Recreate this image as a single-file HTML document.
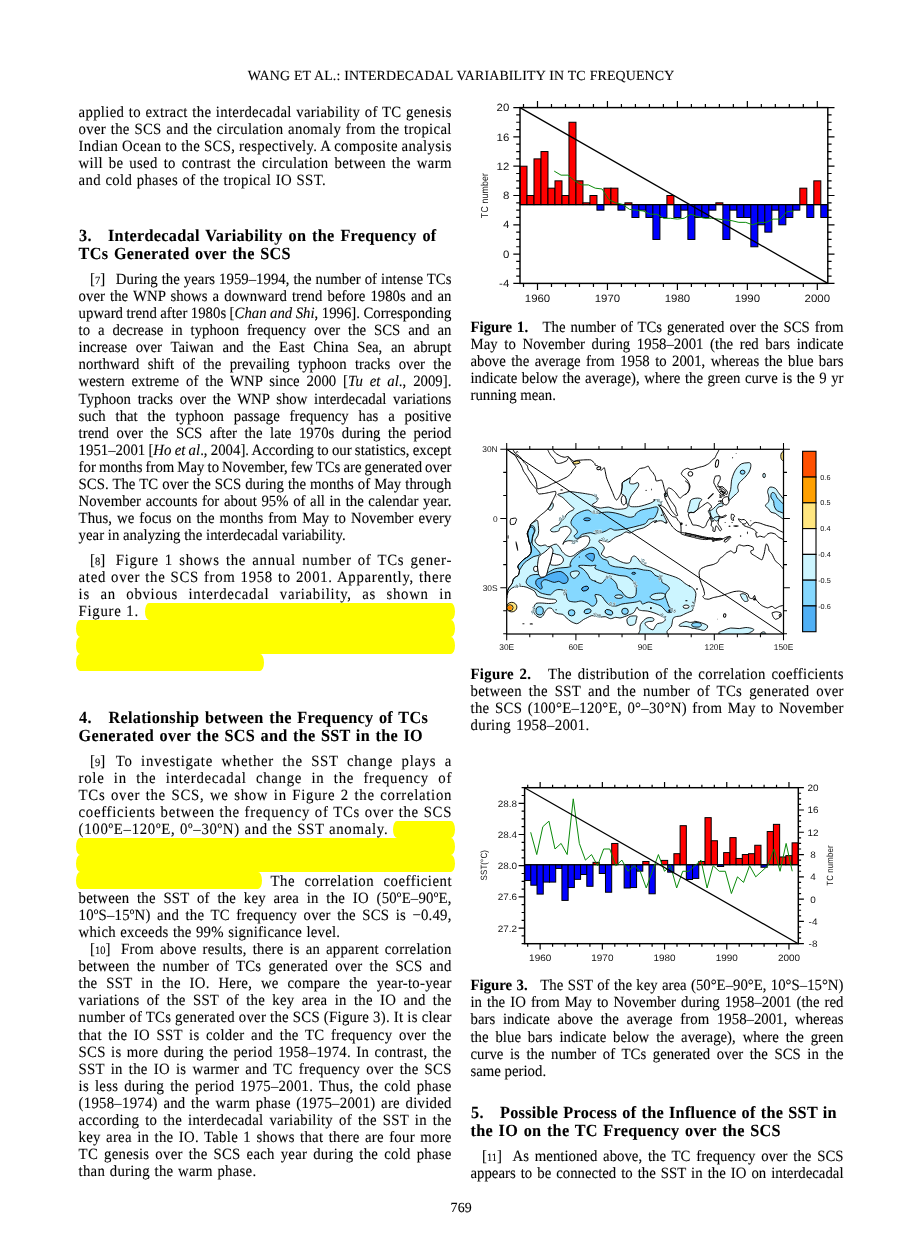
<!DOCTYPE html>
<html><head><meta charset="utf-8"><title>Interdecadal variability in TC frequency</title>
<style>
html,body{margin:0;padding:0;background:#fff}
body{width:920px;height:1255px;position:relative;overflow:hidden;font-family:'Liberation Serif',serif;font-size:14.8px;color:#000;-webkit-text-stroke:0.1px #000;text-rendering:geometricPrecision}
.l{position:absolute;white-space:nowrap;line-height:17px;height:17px}
.l i{font-style:italic}
.b{font-weight:bold}
.n{font-size:10.5px}
.nb{letter-spacing:0}
.sp{display:inline-block;width:10.6px}
.hl{position:absolute;background:#ffff00;border-radius:4px/8.5px}
svg{position:absolute;left:0;top:0}
svg text{fill:#111;-webkit-text-stroke:0;text-rendering:geometricPrecision}
</style></head>
<body>
<div class="l " style="left:247.80px;top:68.00px;width:426.40px;word-spacing:0.233px;letter-spacing:0.150px;font-size:13.9px;">WANG ET AL.: INTERDECADAL VARIABILITY IN TC FREQUENCY</div>
<div class="l " style="left:78.60px;top:105.00px;width:372.80px;word-spacing:0.522px;letter-spacing:0.300px;transform-origin:0 13.50px;transform:scaleY(1.06);">applied to extract the interdecadal variability of TC genesis</div>
<div class="l " style="left:78.60px;top:122.00px;width:372.80px;word-spacing:0.667px;letter-spacing:0.300px;transform-origin:0 13.50px;transform:scaleY(1.06);">over the SCS and the circulation anomaly from the tropical</div>
<div class="l " style="left:78.60px;top:139.00px;width:372.80px;word-spacing:-0.146px;letter-spacing:0.300px;transform-origin:0 13.50px;transform:scaleY(1.06);">Indian Ocean to the SCS, respectively. A composite analysis</div>
<div class="l " style="left:78.60px;top:156.00px;width:372.80px;word-spacing:1.982px;letter-spacing:0.300px;transform-origin:0 13.50px;transform:scaleY(1.06);">will be used to contrast the circulation between the warm</div>
<div class="l " style="left:78.60px;top:173.00px;width:247.00px;word-spacing:0.585px;letter-spacing:0.300px;transform-origin:0 13.50px;transform:scaleY(1.06);">and cold phases of the tropical IO SST.</div>
<div class="l b" style="left:79.10px;top:228.00px;letter-spacing:0.300px;font-size:16.2px;transform-origin:0 13.97px;transform:scaleY(1.05);">3.</div>
<div class="l b" style="left:108.00px;top:228.00px;width:328.20px;word-spacing:1.516px;letter-spacing:0.300px;font-size:16.2px;transform-origin:0 13.97px;transform:scaleY(1.05);">Interdecadal Variability on the Frequency of</div>
<div class="l b" style="left:78.60px;top:246.00px;width:212.00px;word-spacing:1.290px;letter-spacing:0.300px;font-size:16.2px;transform-origin:0 13.97px;transform:scaleY(1.05);">TCs Generated over the SCS</div>
<div class="l " style="left:90.10px;top:272.00px;width:361.30px;word-spacing:0.321px;transform-origin:0 13.50px;transform:scaleY(1.06);"><span class="nb">[<span class="n">7</span>]</span><span class="sp"></span>During the years 1959–1994, the number of intense TCs</div>
<div class="l " style="left:78.60px;top:289.00px;width:372.80px;word-spacing:1.447px;transform-origin:0 13.50px;transform:scaleY(1.06);">over the WNP shows a downward trend before 1980s and an</div>
<div class="l " style="left:78.60px;top:306.00px;width:372.80px;word-spacing:-0.254px;transform-origin:0 13.50px;transform:scaleY(1.06);">upward trend after 1980s [<i>Chan and Shi</i>, 1996]. Corresponding</div>
<div class="l " style="left:78.60px;top:323.00px;width:372.80px;word-spacing:4.161px;transform-origin:0 13.50px;transform:scaleY(1.06);">to a decrease in typhoon frequency over the SCS and an</div>
<div class="l " style="left:78.60px;top:340.00px;width:372.80px;word-spacing:4.953px;transform-origin:0 13.50px;transform:scaleY(1.06);">increase over Taiwan and the East China Sea, an abrupt</div>
<div class="l " style="left:78.60px;top:357.00px;width:372.80px;word-spacing:4.686px;transform-origin:0 13.50px;transform:scaleY(1.06);">northward shift of the prevailing typhoon tracks over the</div>
<div class="l " style="left:78.60px;top:374.00px;width:372.80px;word-spacing:3.211px;transform-origin:0 13.50px;transform:scaleY(1.06);">western extreme of the WNP since 2000 [<i>Tu et al</i>., 2009].</div>
<div class="l " style="left:78.60px;top:392.00px;width:372.80px;word-spacing:2.978px;transform-origin:0 13.50px;transform:scaleY(1.06);">Typhoon tracks over the WNP show interdecadal variations</div>
<div class="l " style="left:78.60px;top:409.00px;width:372.80px;word-spacing:6.123px;transform-origin:0 13.50px;transform:scaleY(1.06);">such that the typhoon passage frequency has a positive</div>
<div class="l " style="left:78.60px;top:426.00px;width:372.80px;word-spacing:3.830px;transform-origin:0 13.50px;transform:scaleY(1.06);">trend over the SCS after the late 1970s during the period</div>
<div class="l " style="left:78.60px;top:443.00px;width:372.80px;word-spacing:-0.451px;transform-origin:0 13.50px;transform:scaleY(1.06);">1951–2001 [<i>Ho et al</i>., 2004]. According to our statistics, except</div>
<div class="l " style="left:78.60px;top:460.00px;width:372.80px;word-spacing:-0.642px;transform-origin:0 13.50px;transform:scaleY(1.06);">for months from May to November, few TCs are generated over</div>
<div class="l " style="left:78.60px;top:477.00px;width:372.80px;word-spacing:0.385px;transform-origin:0 13.50px;transform:scaleY(1.06);">SCS. The TC over the SCS during the months of May through</div>
<div class="l " style="left:78.60px;top:494.00px;width:372.80px;word-spacing:0.918px;transform-origin:0 13.50px;transform:scaleY(1.06);">November accounts for about 95% of all in the calendar year.</div>
<div class="l " style="left:78.60px;top:511.00px;width:372.80px;word-spacing:1.405px;transform-origin:0 13.50px;transform:scaleY(1.06);">Thus, we focus on the months from May to November every</div>
<div class="l " style="left:78.60px;top:528.00px;width:267.00px;word-spacing:0.016px;transform-origin:0 13.50px;transform:scaleY(1.06);">year in analyzing the interdecadal variability.</div>
<div class="l " style="left:90.10px;top:553.00px;width:361.30px;word-spacing:1.814px;letter-spacing:0.700px;transform-origin:0 13.50px;transform:scaleY(1.06);"><span class="nb">[<span class="n">8</span>]</span><span class="sp"></span>Figure 1 shows the annual number of TCs gener-</div>
<div class="l " style="left:78.60px;top:570.00px;width:372.80px;word-spacing:0.649px;letter-spacing:0.700px;transform-origin:0 13.50px;transform:scaleY(1.06);">ated over the SCS from 1958 to 2001. Apparently, there</div>
<div class="l " style="left:78.60px;top:587.00px;width:372.80px;word-spacing:6.125px;letter-spacing:0.700px;transform-origin:0 13.50px;transform:scaleY(1.06);">is an obvious interdecadal variability, as shown in</div>
<div class="l " style="left:78.60px;top:604.00px;width:59.50px;word-spacing:0.466px;letter-spacing:0.700px;transform-origin:0 13.50px;transform:scaleY(1.06);">Figure 1.</div>
<div class="l b" style="left:79.10px;top:710.00px;letter-spacing:0.300px;font-size:16.2px;transform-origin:0 13.97px;transform:scaleY(1.05);">4.</div>
<div class="l b" style="left:108.50px;top:710.00px;width:319.20px;word-spacing:1.216px;letter-spacing:0.300px;font-size:16.2px;transform-origin:0 13.97px;transform:scaleY(1.05);">Relationship between the Frequency of TCs</div>
<div class="l b" style="left:78.60px;top:728.00px;width:344.00px;word-spacing:1.129px;letter-spacing:0.300px;font-size:16.2px;transform-origin:0 13.97px;transform:scaleY(1.05);">Generated over the SCS and the SST in the IO</div>
<div class="l " style="left:90.10px;top:754.00px;width:361.30px;word-spacing:4.103px;letter-spacing:0.700px;transform-origin:0 13.50px;transform:scaleY(1.06);"><span class="nb">[<span class="n">9</span>]</span><span class="sp"></span>To investigate whether the SST change plays a</div>
<div class="l " style="left:78.60px;top:771.00px;width:372.80px;word-spacing:5.045px;letter-spacing:0.700px;transform-origin:0 13.50px;transform:scaleY(1.06);">role in the interdecadal change in the frequency of</div>
<div class="l " style="left:78.60px;top:788.00px;width:372.80px;word-spacing:1.214px;letter-spacing:0.700px;transform-origin:0 13.50px;transform:scaleY(1.06);">TCs over the SCS, we show in Figure 2 the correlation</div>
<div class="l " style="left:78.60px;top:805.00px;width:372.80px;word-spacing:0.426px;letter-spacing:0.700px;transform-origin:0 13.50px;transform:scaleY(1.06);">coefficients between the frequency of TCs over the SCS</div>
<div class="l " style="left:78.60px;top:822.00px;width:309.00px;word-spacing:0.137px;letter-spacing:0.700px;transform-origin:0 13.50px;transform:scaleY(1.06);">(100ºE–120ºE, 0º–30ºN) and the SST anomaly.</div>
<div class="l " style="left:270.50px;top:874.00px;width:181.00px;word-spacing:5.258px;letter-spacing:0.500px;transform-origin:0 13.50px;transform:scaleY(1.06);">The correlation coefficient</div>
<div class="l " style="left:78.60px;top:891.00px;width:372.80px;word-spacing:3.833px;letter-spacing:0.200px;transform-origin:0 13.50px;transform:scaleY(1.06);">between the SST of the key area in the IO (50ºE–90ºE,</div>
<div class="l " style="left:78.60px;top:908.00px;width:372.80px;word-spacing:2.573px;letter-spacing:0.200px;transform-origin:0 13.50px;transform:scaleY(1.06);">10ºS–15ºN) and the TC frequency over the SCS is −0.49,</div>
<div class="l " style="left:78.60px;top:925.00px;width:261.40px;word-spacing:0.554px;letter-spacing:0.200px;transform-origin:0 13.50px;transform:scaleY(1.06);">which exceeds the 99% significance level.</div>
<div class="l " style="left:90.10px;top:942.00px;width:361.30px;word-spacing:1.931px;letter-spacing:0.250px;transform-origin:0 13.50px;transform:scaleY(1.06);"><span class="nb">[<span class="n">10</span>]</span><span class="sp"></span>From above results, there is an apparent correlation</div>
<div class="l " style="left:78.60px;top:959.00px;width:372.80px;word-spacing:3.098px;letter-spacing:0.250px;transform-origin:0 13.50px;transform:scaleY(1.06);">between the number of TCs generated over the SCS and</div>
<div class="l " style="left:78.60px;top:976.00px;width:372.80px;word-spacing:4.870px;letter-spacing:0.250px;transform-origin:0 13.50px;transform:scaleY(1.06);">the SST in the IO. Here, we compare the year-to-year</div>
<div class="l " style="left:78.60px;top:993.00px;width:372.80px;word-spacing:3.323px;letter-spacing:0.250px;transform-origin:0 13.50px;transform:scaleY(1.06);">variations of the SST of the key area in the IO and the</div>
<div class="l " style="left:78.60px;top:1010.00px;width:372.80px;word-spacing:-0.001px;letter-spacing:0.250px;transform-origin:0 13.50px;transform:scaleY(1.06);">number of TCs generated over the SCS (Figure 3). It is clear</div>
<div class="l " style="left:78.60px;top:1028.00px;width:372.80px;word-spacing:2.641px;letter-spacing:0.250px;transform-origin:0 13.50px;transform:scaleY(1.06);">that the IO SST is colder and the TC frequency over the</div>
<div class="l " style="left:78.60px;top:1045.00px;width:372.80px;word-spacing:1.462px;letter-spacing:0.250px;transform-origin:0 13.50px;transform:scaleY(1.06);">SCS is more during the period 1958–1974. In contrast, the</div>
<div class="l " style="left:78.60px;top:1062.00px;width:372.80px;word-spacing:2.161px;letter-spacing:0.250px;transform-origin:0 13.50px;transform:scaleY(1.06);">SST in the IO is warmer and TC frequency over the SCS</div>
<div class="l " style="left:78.60px;top:1079.00px;width:372.80px;word-spacing:2.040px;letter-spacing:0.250px;transform-origin:0 13.50px;transform:scaleY(1.06);">is less during the period 1975–2001. Thus, the cold phase</div>
<div class="l " style="left:78.60px;top:1096.00px;width:372.80px;word-spacing:1.643px;letter-spacing:0.250px;transform-origin:0 13.50px;transform:scaleY(1.06);">(1958–1974) and the warm phase (1975–2001) are divided</div>
<div class="l " style="left:78.60px;top:1113.00px;width:372.80px;word-spacing:2.084px;letter-spacing:0.250px;transform-origin:0 13.50px;transform:scaleY(1.06);">according to the interdecadal variability of the SST in the</div>
<div class="l " style="left:78.60px;top:1130.00px;width:372.80px;word-spacing:1.466px;letter-spacing:0.250px;transform-origin:0 13.50px;transform:scaleY(1.06);">key area in the IO. Table 1 shows that there are four more</div>
<div class="l " style="left:78.60px;top:1147.00px;width:372.80px;word-spacing:2.069px;letter-spacing:0.250px;transform-origin:0 13.50px;transform:scaleY(1.06);">TC genesis over the SCS each year during the cold phase</div>
<div class="l " style="left:78.60px;top:1164.00px;width:177.50px;word-spacing:0.734px;letter-spacing:0.250px;transform-origin:0 13.50px;transform:scaleY(1.06);">than during the warm phase.</div>
<div class="l " style="left:470.50px;top:320.00px;width:373.00px;word-spacing:1.185px;transform-origin:0 13.50px;transform:scaleY(1.06);"><b>Figure 1.</b>&nbsp;&nbsp; The number of TCs generated over the SCS from</div>
<div class="l " style="left:470.50px;top:337.00px;width:373.00px;word-spacing:2.965px;transform-origin:0 13.50px;transform:scaleY(1.06);">May to November during 1958–2001 (the red bars indicate</div>
<div class="l " style="left:470.50px;top:354.00px;width:373.00px;word-spacing:1.677px;transform-origin:0 13.50px;transform:scaleY(1.06);">above the average from 1958 to 2001, whereas the blue bars</div>
<div class="l " style="left:470.50px;top:371.00px;width:373.00px;word-spacing:0.818px;transform-origin:0 13.50px;transform:scaleY(1.06);">indicate below the average), where the green curve is the 9 yr</div>
<div class="l " style="left:470.50px;top:388.00px;transform-origin:0 13.50px;transform:scaleY(1.06);">running mean.</div>
<div class="l " style="left:470.50px;top:667.00px;width:373.00px;word-spacing:1.670px;letter-spacing:0.300px;transform-origin:0 13.50px;transform:scaleY(1.06);"><b>Figure 2.</b>&nbsp;&nbsp; The distribution of the correlation coefficients</div>
<div class="l " style="left:470.50px;top:684.00px;width:373.00px;word-spacing:2.959px;letter-spacing:0.300px;transform-origin:0 13.50px;transform:scaleY(1.06);">between the SST and the number of TCs generated over</div>
<div class="l " style="left:470.50px;top:701.00px;width:373.00px;word-spacing:1.496px;letter-spacing:0.300px;transform-origin:0 13.50px;transform:scaleY(1.06);">the SCS (100°E–120°E, 0°–30°N) from May to November</div>
<div class="l " style="left:470.50px;top:718.00px;width:118.70px;word-spacing:1.281px;letter-spacing:0.300px;transform-origin:0 13.50px;transform:scaleY(1.06);">during 1958–2001.</div>
<div class="l " style="left:470.50px;top:978.00px;width:373.00px;word-spacing:0.635px;transform-origin:0 13.50px;transform:scaleY(1.06);"><b>Figure 3.</b>&nbsp;&nbsp; The SST of the key area (50°E–90°E, 10°S–15°N)</div>
<div class="l " style="left:470.50px;top:995.00px;width:373.00px;word-spacing:1.383px;transform-origin:0 13.50px;transform:scaleY(1.06);">in the IO from May to November during 1958–2001 (the red</div>
<div class="l " style="left:470.50px;top:1012.00px;width:373.00px;word-spacing:4.098px;transform-origin:0 13.50px;transform:scaleY(1.06);">bars indicate above the average from 1958–2001, whereas</div>
<div class="l " style="left:470.50px;top:1030.00px;width:373.00px;word-spacing:3.191px;transform-origin:0 13.50px;transform:scaleY(1.06);">the blue bars indicate below the average), where the green</div>
<div class="l " style="left:470.50px;top:1047.00px;width:373.00px;word-spacing:2.889px;transform-origin:0 13.50px;transform:scaleY(1.06);">curve is the number of TCs generated over the SCS in the</div>
<div class="l " style="left:470.50px;top:1064.00px;transform-origin:0 13.50px;transform:scaleY(1.06);">same period.</div>
<div class="l b" style="left:471.00px;top:1105.00px;letter-spacing:0.300px;font-size:16.2px;transform-origin:0 13.97px;transform:scaleY(1.05);">5.</div>
<div class="l b" style="left:500.00px;top:1105.00px;width:336.60px;word-spacing:0.741px;letter-spacing:0.300px;font-size:16.2px;transform-origin:0 13.97px;transform:scaleY(1.05);">Possible Process of the Influence of the SST in</div>
<div class="l b" style="left:470.50px;top:1123.00px;width:310.00px;word-spacing:1.239px;letter-spacing:0.300px;font-size:16.2px;transform-origin:0 13.97px;transform:scaleY(1.05);">the IO on the TC Frequency over the SCS</div>
<div class="l " style="left:482.00px;top:1149.00px;width:361.50px;word-spacing:2.100px;transform-origin:0 13.50px;transform:scaleY(1.06);"><span class="nb">[<span class="n">11</span>]</span><span class="sp"></span>As mentioned above, the TC frequency over the SCS</div>
<div class="l " style="left:470.50px;top:1166.00px;width:373.00px;word-spacing:1.324px;transform-origin:0 13.50px;transform:scaleY(1.06);">appears to be connected to the SST in the IO on interdecadal</div>
<div class="l " style="left:450.50px;top:1200.00px;letter-spacing:0.200px;font-size:13.9px;">769</div>
<div class="hl" style="left:144.8px;top:603.0px;width:309.8px;height:17.2px"></div>
<div class="hl" style="left:75.7px;top:620.0px;width:378.9px;height:17.2px"></div>
<div class="hl" style="left:75.7px;top:637.0px;width:378.9px;height:17.2px"></div>
<div class="hl" style="left:75.7px;top:654.0px;width:188.6px;height:17.1px"></div>
<div class="hl" style="left:392.5px;top:821.3px;width:62.1px;height:16.9px"></div>
<div class="hl" style="left:75.7px;top:837.8px;width:378.9px;height:17.2px"></div>
<div class="hl" style="left:75.7px;top:854.8px;width:378.9px;height:17.4px"></div>
<div class="hl" style="left:75.7px;top:872.0px;width:186.8px;height:17.0px"></div>
<svg width="920" height="1255" viewBox="0 0 920 1255">
<rect x="520.00" y="166.20" width="7.00" height="38.46" fill="#ff0000" stroke="#000" stroke-width="1.0"/>
<rect x="527.00" y="195.50" width="7.00" height="9.16" fill="#ff0000" stroke="#000" stroke-width="1.0"/>
<rect x="533.99" y="158.88" width="7.00" height="45.78" fill="#ff0000" stroke="#000" stroke-width="1.0"/>
<rect x="540.99" y="151.55" width="7.00" height="53.11" fill="#ff0000" stroke="#000" stroke-width="1.0"/>
<rect x="547.98" y="188.17" width="7.00" height="16.48" fill="#ff0000" stroke="#000" stroke-width="1.0"/>
<rect x="554.98" y="180.85" width="7.00" height="23.81" fill="#ff0000" stroke="#000" stroke-width="1.0"/>
<rect x="561.97" y="195.50" width="7.00" height="9.16" fill="#ff0000" stroke="#000" stroke-width="1.0"/>
<rect x="568.97" y="122.25" width="7.00" height="82.41" fill="#ff0000" stroke="#000" stroke-width="1.0"/>
<rect x="575.96" y="180.85" width="7.00" height="23.81" fill="#ff0000" stroke="#000" stroke-width="1.0"/>
<rect x="582.96" y="202.82" width="7.00" height="1.83" fill="#ff0000" stroke="#000" stroke-width="1.0"/>
<rect x="589.95" y="195.50" width="7.00" height="9.16" fill="#ff0000" stroke="#000" stroke-width="1.0"/>
<rect x="596.95" y="204.66" width="7.00" height="5.49" fill="#0000ff" stroke="#000" stroke-width="1.0"/>
<rect x="603.95" y="188.17" width="7.00" height="16.48" fill="#ff0000" stroke="#000" stroke-width="1.0"/>
<rect x="610.94" y="188.17" width="7.00" height="16.48" fill="#ff0000" stroke="#000" stroke-width="1.0"/>
<rect x="617.94" y="204.66" width="7.00" height="5.49" fill="#0000ff" stroke="#000" stroke-width="1.0"/>
<rect x="624.93" y="202.82" width="7.00" height="1.83" fill="#ff0000" stroke="#000" stroke-width="1.0"/>
<rect x="631.93" y="204.66" width="7.00" height="12.82" fill="#0000ff" stroke="#000" stroke-width="1.0"/>
<rect x="638.92" y="204.66" width="7.00" height="5.49" fill="#0000ff" stroke="#000" stroke-width="1.0"/>
<rect x="645.92" y="204.66" width="7.00" height="12.82" fill="#0000ff" stroke="#000" stroke-width="1.0"/>
<rect x="652.91" y="204.66" width="7.00" height="34.79" fill="#0000ff" stroke="#000" stroke-width="1.0"/>
<rect x="659.91" y="204.66" width="7.00" height="12.82" fill="#0000ff" stroke="#000" stroke-width="1.0"/>
<rect x="666.90" y="195.50" width="7.00" height="9.16" fill="#ff0000" stroke="#000" stroke-width="1.0"/>
<rect x="673.90" y="204.66" width="7.00" height="12.82" fill="#0000ff" stroke="#000" stroke-width="1.0"/>
<rect x="680.90" y="204.66" width="7.00" height="5.49" fill="#0000ff" stroke="#000" stroke-width="1.0"/>
<rect x="687.89" y="204.66" width="7.00" height="34.79" fill="#0000ff" stroke="#000" stroke-width="1.0"/>
<rect x="694.89" y="204.66" width="7.00" height="12.82" fill="#0000ff" stroke="#000" stroke-width="1.0"/>
<rect x="701.88" y="204.66" width="7.00" height="12.82" fill="#0000ff" stroke="#000" stroke-width="1.0"/>
<rect x="708.88" y="204.66" width="7.00" height="5.49" fill="#0000ff" stroke="#000" stroke-width="1.0"/>
<rect x="715.87" y="202.82" width="7.00" height="1.83" fill="#ff0000" stroke="#000" stroke-width="1.0"/>
<rect x="722.87" y="204.66" width="7.00" height="34.79" fill="#0000ff" stroke="#000" stroke-width="1.0"/>
<rect x="729.86" y="204.66" width="7.00" height="5.49" fill="#0000ff" stroke="#000" stroke-width="1.0"/>
<rect x="736.86" y="204.66" width="7.00" height="12.82" fill="#0000ff" stroke="#000" stroke-width="1.0"/>
<rect x="743.85" y="204.66" width="7.00" height="12.82" fill="#0000ff" stroke="#000" stroke-width="1.0"/>
<rect x="750.85" y="204.66" width="7.00" height="42.12" fill="#0000ff" stroke="#000" stroke-width="1.0"/>
<rect x="757.85" y="204.66" width="7.00" height="20.14" fill="#0000ff" stroke="#000" stroke-width="1.0"/>
<rect x="764.84" y="204.66" width="7.00" height="27.47" fill="#0000ff" stroke="#000" stroke-width="1.0"/>
<rect x="771.84" y="204.66" width="7.00" height="5.49" fill="#0000ff" stroke="#000" stroke-width="1.0"/>
<rect x="778.83" y="204.66" width="7.00" height="20.14" fill="#0000ff" stroke="#000" stroke-width="1.0"/>
<rect x="785.83" y="204.66" width="7.00" height="12.82" fill="#0000ff" stroke="#000" stroke-width="1.0"/>
<rect x="792.82" y="204.66" width="7.00" height="5.49" fill="#0000ff" stroke="#000" stroke-width="1.0"/>
<rect x="799.82" y="188.17" width="7.00" height="16.48" fill="#ff0000" stroke="#000" stroke-width="1.0"/>
<rect x="806.81" y="204.66" width="7.00" height="12.82" fill="#0000ff" stroke="#000" stroke-width="1.0"/>
<rect x="813.81" y="180.85" width="7.00" height="23.81" fill="#ff0000" stroke="#000" stroke-width="1.0"/>
<rect x="820.80" y="204.66" width="7.00" height="12.82" fill="#0000ff" stroke="#000" stroke-width="1.0"/>
<line x1="520.0" y1="204.66" x2="827.8" y2="204.66" stroke="#000" stroke-width="1.2"/>
<polyline points="554.20,171.08 561.04,175.15 567.88,175.15 574.72,180.85 581.56,184.92 588.40,184.92 595.24,188.17 602.08,188.99 608.92,199.57 615.76,202.82 622.60,204.45 629.44,209.34 636.28,210.15 643.12,210.96 649.96,214.22 656.80,214.22 663.64,218.29 670.48,218.29 677.32,219.10 684.16,218.29 691.00,214.22 697.84,216.66 704.68,218.29 711.52,218.29 718.36,219.10 725.20,219.92 732.04,220.73 738.88,222.36 745.72,222.36 752.56,224.80 759.40,222.36 766.24,222.36 773.08,219.10 779.92,219.10 786.76,211.78 793.60,210.96" fill="none" stroke="#0a8a0a" stroke-width="1" stroke-linejoin="round"/>
<line x1="520.0" y1="107.6" x2="827.8" y2="283.4" stroke="#000" stroke-width="1.3"/>
<rect x="520.0" y="107.6" width="307.80" height="175.80" fill="none" stroke="#000" stroke-width="1.45"/>
<path d="M523.50 107.6v-3.5M523.50 283.4v3.5M537.49 107.6v-6.5M537.49 283.4v6.5M551.48 107.6v-3.5M551.48 283.4v3.5M565.47 107.6v-3.5M565.47 283.4v3.5M579.46 107.6v-3.5M579.46 283.4v3.5M593.45 107.6v-3.5M593.45 283.4v3.5M607.44 107.6v-6.5M607.44 283.4v6.5M621.43 107.6v-3.5M621.43 283.4v3.5M635.42 107.6v-3.5M635.42 283.4v3.5M649.42 107.6v-3.5M649.42 283.4v3.5M663.41 107.6v-3.5M663.41 283.4v3.5M677.40 107.6v-6.5M677.40 283.4v6.5M691.39 107.6v-3.5M691.39 283.4v3.5M705.38 107.6v-3.5M705.38 283.4v3.5M719.37 107.6v-3.5M719.37 283.4v3.5M733.36 107.6v-3.5M733.36 283.4v3.5M747.35 107.6v-6.5M747.35 283.4v6.5M761.34 107.6v-3.5M761.34 283.4v3.5M775.33 107.6v-3.5M775.33 283.4v3.5M789.32 107.6v-3.5M789.32 283.4v3.5M803.32 107.6v-3.5M803.32 283.4v3.5M817.31 107.6v-6.5M817.31 283.4v6.5M520.0 283.40h-6.7M827.8 283.40h6.7M520.0 276.07h-3.8M827.8 276.07h3.8M520.0 268.75h-3.8M827.8 268.75h3.8M520.0 261.42h-3.8M827.8 261.42h3.8M520.0 254.10h-6.7M827.8 254.10h6.7M520.0 246.77h-3.8M827.8 246.77h3.8M520.0 239.45h-3.8M827.8 239.45h3.8M520.0 232.12h-3.8M827.8 232.12h3.8M520.0 224.80h-6.7M827.8 224.80h6.7M520.0 217.47h-3.8M827.8 217.47h3.8M520.0 210.15h-3.8M827.8 210.15h3.8M520.0 202.82h-3.8M827.8 202.82h3.8M520.0 195.50h-6.7M827.8 195.50h6.7M520.0 188.17h-3.8M827.8 188.17h3.8M520.0 180.85h-3.8M827.8 180.85h3.8M520.0 173.52h-3.8M827.8 173.52h3.8M520.0 166.20h-6.7M827.8 166.20h6.7M520.0 158.88h-3.8M827.8 158.88h3.8M520.0 151.55h-3.8M827.8 151.55h3.8M520.0 144.22h-3.8M827.8 144.22h3.8M520.0 136.90h-6.7M827.8 136.90h6.7M520.0 129.57h-3.8M827.8 129.57h3.8M520.0 122.25h-3.8M827.8 122.25h3.8M520.0 114.92h-3.8M827.8 114.92h3.8M520.0 107.60h-6.7M827.8 107.60h6.7" stroke="#000" stroke-width="1.2" fill="none"/>
<text transform="translate(537.49,302.0) scale(1.08,1)" text-anchor="middle" style="font-family:'Liberation Sans',sans-serif;font-size:10.6px">1960</text>
<text transform="translate(607.44,302.0) scale(1.08,1)" text-anchor="middle" style="font-family:'Liberation Sans',sans-serif;font-size:10.6px">1970</text>
<text transform="translate(677.40,302.0) scale(1.08,1)" text-anchor="middle" style="font-family:'Liberation Sans',sans-serif;font-size:10.6px">1980</text>
<text transform="translate(747.35,302.0) scale(1.08,1)" text-anchor="middle" style="font-family:'Liberation Sans',sans-serif;font-size:10.6px">1990</text>
<text transform="translate(817.31,302.0) scale(1.08,1)" text-anchor="middle" style="font-family:'Liberation Sans',sans-serif;font-size:10.6px">2000</text>
<text transform="translate(509.3,287.00) scale(1.08,1)" text-anchor="end" style="font-family:'Liberation Sans',sans-serif;font-size:10.6px">-4</text>
<text transform="translate(509.3,257.70) scale(1.08,1)" text-anchor="end" style="font-family:'Liberation Sans',sans-serif;font-size:10.6px">0</text>
<text transform="translate(509.3,228.40) scale(1.08,1)" text-anchor="end" style="font-family:'Liberation Sans',sans-serif;font-size:10.6px">4</text>
<text transform="translate(509.3,199.10) scale(1.08,1)" text-anchor="end" style="font-family:'Liberation Sans',sans-serif;font-size:10.6px">8</text>
<text transform="translate(509.3,169.80) scale(1.08,1)" text-anchor="end" style="font-family:'Liberation Sans',sans-serif;font-size:10.6px">12</text>
<text transform="translate(509.3,140.50) scale(1.08,1)" text-anchor="end" style="font-family:'Liberation Sans',sans-serif;font-size:10.6px">16</text>
<text transform="translate(509.3,111.20) scale(1.08,1)" text-anchor="end" style="font-family:'Liberation Sans',sans-serif;font-size:10.6px">20</text>
<text transform="translate(487.6,195.5) scale(1.15,1) rotate(-90)" text-anchor="middle" style="font-family:'Liberation Sans',sans-serif;font-size:8.7px;letter-spacing:0.2px">TC number</text>
<clipPath id="mc"><rect x="506.7" y="449.3" width="276.80" height="184.70"/></clipPath>
<g clip-path="url(#mc)"><path d="M557.7 494.5C557.7 493.9 561.1 493.6 562.9 493.2C564.6 492.7 566.9 491.7 569.0 491.6C571.2 491.5 574.5 492.1 577.3 492.5C580.1 492.8 585.3 493.6 587.6 494.0C590.0 494.4 591.3 494.5 592.8 495.1C594.4 495.8 597.4 497.1 598.0 498.1C598.5 499.1 597.3 500.8 596.4 501.8C595.6 502.7 592.5 503.8 592.3 504.5C592.1 505.3 593.7 506.2 594.9 506.7C596.0 507.2 599.1 507.8 600.0 508.0C601.0 508.1 599.9 508.1 601.2 508.0C602.5 507.8 606.9 507.0 608.9 507.1C611.0 507.3 612.9 508.7 614.6 509.0C616.3 509.3 618.6 509.3 620.3 509.2C622.0 509.1 624.9 508.7 626.0 508.2C627.1 507.7 627.8 506.7 627.9 505.9C627.9 505.1 626.8 503.9 626.5 502.8C626.2 501.7 626.3 499.7 626.0 498.7C625.7 497.6 625.1 496.3 624.4 495.6C623.7 494.8 621.7 494.7 621.3 493.5C621.0 492.2 621.9 488.9 622.1 487.3C622.2 485.7 621.8 483.7 622.4 482.6C623.0 481.6 624.8 481.0 626.0 480.3C627.2 479.6 629.6 477.6 630.1 478.0C630.7 478.4 629.1 482.3 629.6 483.2C630.1 484.0 632.5 484.0 633.7 483.9C635.0 483.8 637.1 482.4 637.9 482.6C638.6 482.9 639.0 484.6 638.6 485.7C638.2 486.9 636.6 488.9 635.5 490.4C634.4 491.9 632.3 494.0 631.4 495.6C630.4 497.1 629.7 499.3 629.3 500.7C628.9 502.1 628.6 504.0 628.9 504.9C629.2 505.7 629.7 506.3 631.2 506.6C632.6 506.9 636.4 506.8 638.4 506.6C640.4 506.4 642.7 505.6 644.6 505.1C646.4 504.5 649.2 503.7 650.8 503.0C652.3 502.3 654.5 500.9 654.9 500.4C655.3 500.0 653.2 500.1 653.5 500.0C653.8 499.9 656.0 499.4 657.0 499.6C657.9 499.8 658.9 500.6 659.6 501.3C660.2 502.0 661.3 503.6 661.3 504.3C661.3 505.1 659.7 505.6 659.7 506.3C659.7 506.9 660.7 507.3 661.3 508.7C661.9 510.1 663.1 513.6 663.9 515.7C664.8 517.7 666.7 521.0 667.0 522.2C667.2 523.3 666.4 523.4 665.7 523.2C664.9 523.0 663.2 521.4 662.2 521.0C661.1 520.7 659.9 520.6 658.7 520.9C657.5 521.1 654.6 522.7 654.3 522.6C654.1 522.6 657.2 520.7 657.0 520.6C656.8 520.4 654.1 521.0 652.9 521.6C651.6 522.2 650.1 523.8 648.7 524.7C647.3 525.6 645.4 527.0 643.6 527.8C641.7 528.6 638.3 529.1 636.3 529.9C634.3 530.6 631.7 532.6 630.1 533.0C628.6 533.3 627.4 531.6 626.0 531.9C624.6 532.2 622.4 534.2 620.8 535.0C619.3 535.8 617.1 536.3 615.7 537.1C614.3 537.8 612.6 539.2 611.5 540.0C610.5 540.7 609.9 541.8 608.7 542.0C607.5 542.1 604.8 541.2 603.5 540.9C602.1 540.7 600.2 540.1 599.6 540.2C598.9 540.4 598.7 541.3 599.1 542.0C599.6 542.6 601.8 543.7 602.6 544.6C603.4 545.5 604.3 547.0 604.3 548.0C604.3 549.1 603.1 550.6 602.6 551.5C602.2 552.4 601.3 553.5 601.3 554.1C601.3 554.7 602.0 555.0 602.7 555.5C603.5 556.0 605.2 557.4 606.4 557.6C607.5 557.7 609.1 556.3 610.5 556.5C611.9 556.8 614.1 558.3 615.7 559.1C617.2 559.9 619.3 561.1 620.8 561.7C622.4 562.3 624.6 563.2 626.0 563.2C627.4 563.3 629.3 563.1 630.1 562.2C631.0 561.4 631.1 558.5 631.7 557.6C632.3 556.6 633.4 555.9 634.3 556.0C635.1 556.1 636.4 557.1 637.4 558.1C638.3 559.0 639.4 561.1 640.5 562.2C641.5 563.3 643.0 564.5 644.6 565.3C646.1 566.1 648.9 566.7 650.8 567.4C652.6 568.1 655.1 569.1 657.0 570.0C658.8 570.8 661.3 572.3 663.2 573.1C665.0 573.8 667.5 574.5 669.4 575.1C671.2 575.7 673.9 576.5 675.6 577.2C677.3 577.9 679.3 578.8 680.7 579.8C682.1 580.7 683.5 582.4 684.9 583.4C686.3 584.4 689.4 586.1 690.0 586.5C690.7 586.8 688.8 585.3 689.3 585.7C689.9 586.0 692.7 587.8 693.7 588.9C694.7 590.1 695.6 591.8 695.9 593.3C696.1 594.7 695.6 596.9 695.3 598.7C695.1 600.5 694.6 603.6 694.2 605.2C693.8 606.8 692.9 608.8 692.6 609.6C692.3 610.4 693.2 610.1 692.2 610.7C691.2 611.2 687.8 612.5 686.1 613.3C684.4 614.0 682.4 615.3 680.9 615.9C679.3 616.4 676.8 616.3 675.7 616.7C674.5 617.1 673.6 617.6 673.0 618.5C672.5 619.4 672.4 621.7 672.2 622.8C671.9 624.0 671.8 625.3 671.3 626.3C670.8 627.3 669.3 628.6 668.7 629.3C668.0 630.1 667.2 630.8 667.0 631.5C666.8 632.2 667.3 633.3 667.4 634.1C667.5 634.9 671.4 636.3 667.4 636.7C663.3 637.1 644.5 637.8 640.4 636.7C636.3 635.7 640.0 631.6 640.0 629.8C640.0 628.0 639.9 625.9 640.4 624.6C641.0 623.2 642.5 621.6 643.5 620.7C644.5 619.7 645.8 618.5 647.0 618.0C648.1 617.6 650.3 617.5 651.3 617.6C652.3 617.7 653.7 618.4 653.9 618.9C654.2 619.4 653.8 620.7 653.0 621.1C652.3 621.5 649.9 621.3 648.7 621.5C647.5 621.8 645.7 622.3 645.2 622.8C644.8 623.3 645.1 624.2 645.7 625.0C646.2 625.8 647.6 627.3 648.7 628.0C649.8 628.8 652.1 629.9 653.0 629.8C654.0 629.7 654.1 628.1 654.8 627.2C655.4 626.3 656.3 624.3 657.4 623.7C658.4 623.0 660.6 623.3 661.7 622.8C662.9 622.3 664.8 621.0 665.2 620.2C665.6 619.4 665.0 618.3 664.3 617.6C663.7 617.0 661.8 616.3 660.9 615.9C660.0 615.4 659.3 615.0 658.3 614.6C657.2 614.1 655.5 613.3 653.9 612.8C652.3 612.3 649.5 611.4 647.8 611.1C646.1 610.8 644.0 610.8 642.6 610.7C641.2 610.5 639.5 610.3 638.7 609.8C637.8 609.3 637.7 606.8 637.0 607.2C636.2 607.6 635.2 611.2 633.9 612.4C632.7 613.6 630.1 614.3 628.7 615.0C627.3 615.7 625.7 616.3 624.3 616.7C623.0 617.2 621.3 618.0 620.0 618.0C618.7 618.1 617.1 617.2 615.7 617.3C614.2 617.4 612.0 618.8 610.5 618.7C608.9 618.6 606.9 616.9 605.3 616.7C603.8 616.4 601.7 617.2 600.2 617.2C598.6 617.1 596.3 616.4 595.0 616.1C593.7 615.9 592.9 615.4 591.8 615.6C590.7 615.8 588.9 616.9 587.6 617.5C586.4 618.1 584.8 618.8 583.5 619.5C582.3 620.3 580.5 622.0 579.4 622.6C578.3 623.3 577.5 623.8 576.3 623.7C575.0 623.5 572.7 622.5 571.1 621.6C569.6 620.7 567.2 618.6 566.0 617.5C564.7 616.4 563.9 614.9 562.9 614.4C561.8 613.8 560.0 614.2 558.7 613.9C557.5 613.6 555.6 613.1 554.6 612.3C553.6 611.5 552.9 609.3 552.0 608.7C551.1 608.1 549.4 607.8 548.4 608.2C547.4 608.6 546.1 610.2 545.3 611.3C544.5 612.4 544.0 614.5 543.2 615.4C542.4 616.3 541.2 617.5 540.1 617.5C539.0 617.5 537.0 616.3 536.0 615.4C535.0 614.5 533.7 612.5 533.4 611.3C533.1 610.0 533.5 608.3 533.9 607.1C534.3 606.0 534.9 604.2 536.0 603.5C537.1 602.9 539.3 603.0 541.2 603.0C543.0 603.0 546.4 603.5 548.4 603.5C550.4 603.5 553.3 603.4 554.6 603.0C555.8 602.6 556.7 601.5 556.7 601.0C556.7 600.4 555.8 599.7 554.6 599.4C553.3 599.1 550.4 599.2 548.4 598.9C546.4 598.6 542.9 597.8 541.2 597.3C539.5 596.9 538.0 596.6 537.0 595.8C536.1 594.9 536.0 592.7 535.0 591.7C533.9 590.6 531.5 589.3 529.8 588.6C528.1 587.8 525.9 586.7 523.6 586.5C521.3 586.3 516.5 586.4 514.3 587.0C512.1 587.6 510.2 589.5 509.1 590.6C508.0 591.8 507.3 594.8 507.1 594.8C506.8 594.8 507.3 591.7 507.6 590.6C507.9 589.5 508.4 588.6 509.1 587.5C509.8 586.4 511.6 584.6 512.2 583.4C512.9 582.1 512.8 580.2 513.3 579.3C513.7 578.3 514.6 577.8 515.3 577.2C516.1 576.6 517.8 576.2 518.4 575.1C519.0 574.0 519.5 571.2 519.5 570.0C519.4 568.7 517.9 567.8 517.9 566.9C517.9 565.9 518.6 564.8 519.5 563.8C520.3 562.7 522.1 560.9 523.6 559.6C525.1 558.4 528.1 556.7 529.3 555.5C530.4 554.3 531.1 552.8 531.3 551.4C531.6 550.0 531.1 547.6 530.8 546.2C530.5 544.8 529.7 543.4 529.3 542.0C528.9 540.6 528.6 538.1 528.2 536.9C527.9 535.6 527.2 534.7 527.2 533.8C527.2 532.8 527.9 531.6 528.2 530.7C528.6 529.7 529.4 528.6 529.8 527.6C530.2 526.6 530.1 524.9 530.8 524.0C531.6 523.0 534.0 521.9 535.0 521.4C536.0 520.9 537.0 519.9 537.5 520.6C538.0 521.2 538.1 524.0 538.3 525.5C538.4 527.0 538.7 529.2 538.7 530.7C538.6 532.1 538.3 534.2 537.9 535.3C537.4 536.5 536.4 537.7 536.0 538.4C535.6 539.1 535.0 539.3 535.0 540.0C535.0 540.7 535.2 542.2 536.0 543.1C536.8 544.0 538.7 545.5 540.1 545.8C541.5 546.1 544.2 544.8 545.3 545.0C546.4 545.1 546.7 546.6 547.6 546.7C548.4 546.9 550.1 546.3 551.0 546.0C551.9 545.7 552.7 544.9 553.6 544.6C554.4 544.4 555.7 543.9 556.7 544.3C557.6 544.8 558.9 546.7 559.8 547.7C560.6 548.8 561.2 550.3 562.0 551.4C562.9 552.4 564.3 553.9 565.4 554.7C566.6 555.4 568.3 556.4 569.6 556.5C570.8 556.7 572.5 556.1 573.7 555.5C574.9 554.9 576.1 553.5 577.3 552.6C578.6 551.8 580.6 550.7 582.0 549.8C583.4 548.9 585.6 547.4 586.6 546.4C587.6 545.4 588.4 544.1 588.9 543.1C589.4 542.1 589.8 540.6 589.9 540.0C590.0 539.4 589.7 539.4 589.6 538.9C589.4 538.4 589.3 537.2 588.7 536.7C588.0 536.3 586.5 535.7 585.2 535.9C583.9 536.0 581.5 536.8 580.0 537.6C578.5 538.4 576.9 540.6 575.2 541.1C573.5 541.5 570.4 540.5 568.7 540.7C567.0 540.8 564.8 541.8 563.9 542.4C563.1 543.0 563.0 544.6 563.0 544.4C563.1 544.2 563.6 542.2 564.3 541.1C565.1 539.9 566.8 538.0 567.8 536.7C568.8 535.4 570.5 533.6 570.9 532.4C571.3 531.2 571.2 529.8 570.4 528.9C569.7 528.0 567.7 526.4 566.1 526.3C564.5 526.2 561.1 527.4 560.0 528.0C558.9 528.7 559.7 530.3 558.7 530.9C557.8 531.5 554.7 531.9 553.6 531.9C552.4 532.0 551.4 531.5 551.0 531.2C550.5 530.9 550.5 530.5 550.5 530.2C550.5 529.9 550.4 529.7 551.0 529.1C551.6 528.6 553.3 527.2 554.6 526.5C555.8 525.8 558.3 525.3 559.2 524.5C560.2 523.7 560.0 522.3 560.8 521.4C561.6 520.5 563.6 519.2 564.4 518.3C565.2 517.4 565.3 516.1 566.0 515.2C566.6 514.3 567.8 513.0 569.0 512.1C570.3 511.2 573.9 509.9 574.2 509.0C574.5 508.1 572.2 507.0 571.1 505.9C570.0 504.8 568.2 503.0 567.0 501.8C565.7 500.5 564.2 498.7 562.9 497.6C561.5 496.5 557.7 495.2 557.7 494.5Z" fill="#ccf5ff" stroke="#000" stroke-width="0.9" stroke-linejoin="round" />
<path d="M553.0 553.4C553.8 553.3 555.4 554.1 556.7 554.5C557.9 554.8 559.7 554.7 560.8 555.5C561.9 556.3 563.1 557.9 563.4 559.1C563.6 560.3 563.1 561.8 562.3 562.7C561.6 563.7 560.0 564.4 558.7 564.8C557.4 565.2 556.0 565.4 554.6 565.3C553.2 565.2 551.1 565.2 550.5 564.3C549.9 563.3 550.7 561.1 551.0 559.6C551.2 558.2 551.7 556.5 552.0 555.5C552.3 554.5 552.3 553.6 553.0 553.4Z" fill="#fff" stroke="#000" stroke-width="0.9" stroke-linejoin="round" />
<ellipse cx="535.8" cy="568.9" rx="2.3" ry="2.7" fill="#fff" stroke="#000" stroke-width="0.9"/>
<ellipse cx="686.1" cy="606.7" rx="3.0" ry="1.7" fill="#fff" stroke="#000" stroke-width="0.9"/>
<path d="M627.4 618.5C628.0 617.7 629.1 616.7 630.4 616.3C631.8 615.9 634.6 615.8 635.7 615.9C636.7 615.9 636.9 616.0 637.0 616.7C637.0 617.5 636.4 619.1 636.1 620.2C635.8 621.4 636.0 622.8 635.2 623.7C634.4 624.6 632.5 625.3 631.3 625.4C630.1 625.6 629.0 625.3 628.3 624.6C627.5 623.8 627.1 622.1 627.0 621.1C626.8 620.1 626.8 619.3 627.4 618.5Z" fill="#ccf5ff" stroke="#000" stroke-width="0.9" stroke-linejoin="round" />
<path d="M679.1 625.0C679.6 624.4 681.4 623.4 682.6 622.8C683.8 622.2 684.9 621.6 686.1 621.5C687.2 621.4 688.3 622.3 689.6 622.4C690.9 622.5 693.0 622.1 693.9 622.0C694.8 621.8 693.6 621.2 694.8 621.3C696.0 621.4 699.2 622.1 701.3 622.8C703.4 623.6 707.1 624.6 707.6 625.9C708.2 627.1 706.0 629.6 704.6 630.2C703.2 630.8 700.9 629.7 699.1 629.3C697.3 629.0 694.7 628.4 693.7 628.3C692.7 628.1 694.0 628.7 693.0 628.5C692.1 628.2 689.6 627.1 687.8 626.7C686.1 626.4 683.9 626.4 682.6 626.3C681.3 626.2 680.6 626.5 680.0 626.3C679.4 626.1 678.7 625.6 679.1 625.0Z" fill="#ccf5ff" stroke="#000" stroke-width="0.9" stroke-linejoin="round" />
<path d="M718.7 633.5C717.2 632.6 722.1 631.1 724.1 630.2C726.1 629.3 728.1 628.3 730.7 628.0C733.2 627.8 736.8 628.7 739.3 628.6C741.9 628.5 743.7 627.5 745.9 627.5C748.0 627.5 751.1 628.1 752.4 628.6C753.7 629.0 754.1 629.6 753.7 630.2C753.3 630.9 751.3 631.8 750.2 632.4C749.1 633.0 749.9 633.2 747.0 633.7C744.1 634.2 737.5 635.7 732.8 635.7C728.1 635.6 720.1 634.4 718.7 633.5Z" fill="#ccf5ff" stroke="#000" stroke-width="0.9" stroke-linejoin="round" />
<path d="M760.5 633.7C760.0 633.4 761.5 632.5 762.2 632.2C762.8 631.9 763.8 631.7 764.3 632.0C764.9 632.2 766.3 633.4 765.7 633.7C765.0 634.0 761.1 633.9 760.5 633.7Z" fill="#ccf5ff" stroke="#000" stroke-width="0.9" stroke-linejoin="round" />
<path d="M740.4 594.3C740.9 593.9 742.7 593.6 743.7 593.8C744.7 594.0 745.8 594.6 746.4 595.4C747.0 596.2 747.2 597.8 747.5 598.7C747.8 599.6 748.5 600.4 748.0 600.9C747.6 601.3 745.7 601.7 744.8 601.4C743.9 601.1 743.2 600.1 742.6 599.2C742.0 598.4 741.3 597.3 741.0 596.5C740.6 595.7 740.0 594.8 740.4 594.3Z" fill="#ccf5ff" stroke="#000" stroke-width="0.9" stroke-linejoin="round" />
<path d="M552.3 502.8C552.9 502.5 553.3 504.1 553.3 504.9C553.4 505.6 553.2 506.5 552.7 507.4C552.2 508.3 551.2 510.0 550.5 510.2C549.7 510.5 548.3 509.6 548.2 509.0C548.1 508.3 549.2 507.4 549.9 506.4C550.6 505.4 551.7 503.0 552.3 502.8Z" fill="#ccf5ff" stroke="#000" stroke-width="0.9" stroke-linejoin="round" />
<path d="M731.7 479.6C732.2 477.8 733.0 475.1 733.9 473.1C734.8 471.1 735.9 469.2 737.2 467.7C738.4 466.1 739.9 464.7 741.5 463.8C743.2 463.0 745.5 462.9 747.0 462.8C748.4 462.6 749.6 462.5 750.2 463.1C750.9 463.7 750.9 465.1 750.8 466.6C750.6 468.1 750.1 470.2 749.1 472.0C748.1 473.8 746.4 475.6 744.8 477.4C743.2 479.2 740.5 481.2 739.3 482.9C738.2 484.5 737.9 485.8 737.7 487.2C737.5 488.7 738.9 490.1 738.3 491.6C737.6 493.0 735.3 494.6 733.9 495.9C732.6 497.3 731.0 499.0 730.1 499.7C729.2 500.4 728.7 501.1 728.5 500.3C728.3 499.4 728.7 496.6 729.0 494.8C729.4 493.0 730.3 491.2 730.7 489.4C731.0 487.6 731.0 485.6 731.2 484.0C731.4 482.3 731.3 481.4 731.7 479.6Z" fill="#ccf5ff" stroke="#000" stroke-width="0.9" stroke-linejoin="round" />
<path d="M690.9 500.0C691.8 499.0 693.8 498.6 695.2 498.3C696.7 498.0 698.5 498.0 699.6 498.3C700.7 498.5 701.7 498.8 701.7 499.6C701.7 500.3 700.1 501.5 699.6 502.6C699.1 503.7 699.1 504.9 698.7 506.1C698.3 507.2 698.1 508.6 697.4 509.6C696.7 510.6 695.4 511.7 694.3 512.2C693.3 512.7 692.0 512.6 690.9 512.6C689.8 512.6 688.3 512.8 687.8 512.2C687.4 511.5 688.0 510.0 688.3 508.7C688.6 507.4 689.1 505.8 689.6 504.3C690.0 502.9 689.9 501.0 690.9 500.0Z" fill="#ccf5ff" stroke="#000" stroke-width="0.9" stroke-linejoin="round" />
<path d="M708.3 510.7C708.5 509.9 710.3 510.7 711.5 510.0C712.7 509.4 714.3 507.7 715.4 506.7C716.5 505.8 717.0 504.8 718.0 504.1C719.1 503.5 721.1 502.8 722.0 502.8C722.8 502.8 722.8 503.6 722.9 504.1C723.0 504.7 723.2 505.7 722.6 506.1C722.0 506.5 720.3 506.4 719.4 506.7C718.4 507.1 717.6 507.7 717.1 508.4C716.6 509.0 716.4 509.8 716.4 510.7C716.5 511.5 717.0 512.8 717.4 513.6C717.8 514.4 718.8 514.7 719.0 515.6C719.3 516.4 719.4 517.6 719.0 518.5C718.6 519.4 717.6 520.9 716.7 521.1C715.9 521.3 714.8 519.7 714.1 519.8C713.5 519.9 713.3 522.0 712.8 521.8C712.4 521.5 712.0 519.7 711.5 518.5C711.0 517.3 710.4 515.9 709.9 514.6C709.3 513.3 708.0 511.4 708.3 510.7Z" fill="#ccf5ff" stroke="#000" stroke-width="0.9" stroke-linejoin="round" />
<path d="M769.8 487.2C771.1 486.7 773.8 487.4 775.2 488.3C776.7 489.2 777.2 491.0 778.5 492.7C779.7 494.3 781.6 496.3 782.8 498.1C784.0 499.9 785.1 500.1 785.5 503.5C786.0 507.0 786.5 516.6 785.5 518.7C784.5 520.9 781.3 517.5 779.6 516.6C777.8 515.7 776.7 514.0 775.2 513.3C773.8 512.6 772.0 512.9 770.9 512.2C769.8 511.5 769.6 510.0 768.7 509.0C767.8 507.9 765.4 507.0 765.4 505.7C765.4 504.4 768.2 503.0 768.7 501.3C769.2 499.7 768.9 497.5 768.7 495.9C768.5 494.3 767.4 493.0 767.6 491.6C767.8 490.1 768.5 487.8 769.8 487.2Z" fill="#ccf5ff" stroke="#000" stroke-width="0.9" stroke-linejoin="round" />
<ellipse cx="764.1" cy="475.5" rx="1.3" ry="2.2" fill="#ccf5ff" stroke="#000" stroke-width="0.9"/>
<ellipse cx="665.7" cy="494.8" rx="1.4" ry="2.1" fill="#ccf5ff" stroke="#000" stroke-width="0.9" transform="rotate(-8 665.7 494.8)"/>
<path d="M530.8 525.5C531.5 525.3 533.2 525.7 533.9 526.5C534.6 527.4 535.0 529.3 535.0 530.7C534.9 532.1 533.8 533.4 533.4 534.8C533.0 536.2 532.5 537.4 532.4 538.9C532.2 540.5 531.8 542.6 532.4 544.1C533.0 545.7 534.7 546.7 536.0 548.3C537.3 549.8 539.8 552.2 540.1 553.4C540.5 554.6 539.1 555.0 538.1 555.5C537.0 556.0 535.5 555.8 533.9 556.5C532.4 557.2 530.3 558.6 528.8 559.6C527.2 560.7 525.8 561.5 524.6 562.7C523.4 563.9 522.4 565.7 521.5 566.9C520.7 568.1 520.1 570.0 519.5 570.0C518.9 570.0 517.9 567.9 517.9 566.9C517.9 565.8 518.5 565.0 519.5 563.8C520.4 562.6 522.0 561.0 523.6 559.6C525.2 558.3 528.0 556.9 529.3 555.5C530.6 554.1 531.1 552.9 531.3 551.4C531.6 549.8 531.2 547.8 530.8 546.2C530.5 544.6 529.7 543.5 529.3 542.0C528.8 540.4 528.5 538.2 528.2 536.9C528.0 535.5 527.5 534.8 527.5 533.8C527.6 532.7 528.2 531.6 528.6 530.7C528.9 529.7 529.4 529.0 529.8 528.1C530.2 527.2 530.1 525.8 530.8 525.5Z" fill="#85d8ff" stroke="#000" stroke-width="0.9" stroke-linejoin="round" />
<path d="M571.1 521.4C571.6 519.7 573.5 516.8 575.2 515.2C577.0 513.5 579.4 512.4 581.4 511.6C583.5 510.7 586.1 510.0 587.6 510.0C589.2 510.0 589.7 511.0 590.7 511.6C591.8 512.1 592.3 513.1 593.8 513.3C595.4 513.6 598.8 513.2 600.0 513.1C601.3 513.0 599.8 512.8 601.2 512.6C602.6 512.4 606.0 512.0 608.4 512.1C610.8 512.2 613.3 512.6 615.7 513.1C618.1 513.6 620.7 514.5 622.9 515.2C625.1 515.9 627.2 517.1 629.1 517.2C631.0 517.4 633.1 516.9 634.3 516.2C635.5 515.5 635.1 514.1 636.3 513.1C637.5 512.1 639.4 510.8 641.5 510.0C643.6 509.2 646.3 509.0 648.7 508.5C651.1 508.0 654.4 506.9 656.0 506.9C657.5 506.9 657.8 507.4 658.0 508.5C658.2 509.5 657.7 511.5 657.0 513.1C656.3 514.8 655.3 517.2 653.9 518.3C652.5 519.3 650.1 518.5 648.7 519.3C647.3 520.2 647.2 522.4 645.6 523.4C644.1 524.5 641.5 524.9 639.4 525.5C637.4 526.1 635.3 526.5 633.2 527.1C631.2 527.6 629.1 528.2 627.0 528.6C625.0 529.0 622.9 529.4 620.8 529.6C618.8 529.9 616.3 530.3 614.6 530.2C612.9 530.0 611.9 528.5 610.5 528.6C609.1 528.7 607.9 530.0 606.4 530.7C604.8 531.4 603.1 532.2 601.2 532.7C599.3 533.3 596.7 533.8 595.0 533.8C593.3 533.8 592.5 532.7 590.7 532.7C589.0 532.7 586.1 533.4 584.5 533.8C583.0 534.1 582.3 534.2 581.4 534.8C580.6 535.4 580.2 536.8 579.4 537.4C578.5 538.0 577.1 538.7 576.3 538.4C575.4 538.2 574.0 536.8 574.2 535.8C574.4 534.9 577.0 533.8 577.3 532.7C577.7 531.7 577.1 530.8 576.3 529.6C575.4 528.4 573.0 526.9 572.1 525.5C571.3 524.1 570.6 523.1 571.1 521.4Z" fill="#85d8ff" stroke="#000" stroke-width="0.9" stroke-linejoin="round" />
<path d="M526.2 581.3C526.4 580.2 527.6 577.7 528.8 576.7C529.9 575.7 532.5 574.9 533.9 574.6C535.3 574.3 536.2 574.8 538.1 574.6C539.9 574.4 544.5 573.6 546.3 573.1C548.2 572.5 549.2 571.6 550.5 571.0C551.7 570.4 553.0 569.4 554.6 568.9C556.1 568.5 558.9 568.1 560.8 567.9C562.6 567.7 565.4 567.6 567.0 567.4C568.5 567.1 570.7 566.8 571.1 566.3C571.6 565.9 569.9 565.3 570.1 564.3C570.2 563.3 571.2 560.9 572.1 559.6C573.1 558.3 574.9 556.7 576.3 555.5C577.7 554.3 579.9 552.4 581.4 551.4C583.0 550.4 585.1 549.4 586.6 548.8C588.2 548.2 590.4 547.2 591.8 547.2C593.2 547.2 595.0 548.2 595.9 548.8C596.8 549.4 597.5 550.5 598.0 551.4C598.5 552.2 598.5 553.4 599.1 554.5C599.8 555.5 601.0 557.7 602.2 558.6C603.5 559.5 606.3 559.7 607.4 560.7C608.5 561.6 608.2 563.9 609.5 564.8C610.7 565.7 613.8 566.5 615.7 566.9C617.5 567.2 619.8 567.1 621.9 567.4C623.9 567.7 626.9 568.8 629.1 568.9C631.3 569.1 634.2 568.3 636.3 568.4C638.5 568.6 641.4 569.6 643.6 570.0C645.7 570.3 649.1 570.2 650.8 571.0C652.5 571.8 653.4 574.0 654.9 575.1C656.5 576.2 660.0 577.1 661.1 578.2C662.2 579.3 661.2 581.3 662.1 582.4C663.1 583.4 666.2 584.5 667.3 585.5C668.4 586.4 669.5 587.5 669.4 588.6C669.2 589.6 666.9 591.6 666.3 592.7C665.7 593.8 665.1 594.4 665.2 595.8C665.4 597.2 666.7 600.3 667.3 602.0C667.9 603.7 668.6 605.9 669.4 607.1C670.2 608.4 672.2 609.5 672.5 610.2C672.8 611.0 672.2 612.0 671.4 612.3C670.7 612.6 668.4 612.8 667.3 612.3C666.2 611.8 665.1 610.1 664.2 609.2C663.3 608.3 662.4 606.9 661.1 606.1C659.9 605.3 657.8 604.7 656.0 604.0C654.1 603.4 650.7 602.0 648.7 602.0C646.7 602.0 643.8 604.2 642.5 604.0C641.3 603.9 641.4 601.3 640.5 601.0C639.5 600.6 638.0 601.7 636.3 602.0C634.6 602.3 631.3 602.7 629.1 603.0C626.9 603.3 623.9 603.6 621.9 604.0C619.8 604.5 617.5 606.0 615.7 606.1C613.8 606.3 611.0 605.9 609.5 605.1C607.9 604.3 606.6 602.3 605.3 601.0C604.1 599.6 602.7 596.7 601.2 595.8C599.6 594.9 595.6 594.0 595.0 594.8C594.4 595.5 597.0 599.4 596.9 601.0C596.9 602.5 595.7 604.3 594.9 605.1C594.1 605.9 592.9 606.4 591.8 606.1C590.7 605.8 589.2 603.8 587.6 603.0C586.1 602.2 583.3 601.1 581.4 601.0C579.6 600.8 577.1 602.0 575.2 602.0C573.4 602.0 570.3 601.6 569.0 601.0C567.8 600.3 567.4 599.1 567.0 597.9C566.5 596.6 566.6 593.8 566.0 592.7C565.3 591.5 564.1 590.6 562.9 590.1C561.6 589.6 559.1 589.4 557.7 589.6C556.3 589.8 554.6 590.9 553.6 591.7C552.5 592.4 551.7 594.4 550.5 594.8C549.2 595.1 546.8 594.5 545.3 594.2C543.7 593.9 541.5 593.4 540.1 592.7C538.7 592.0 537.4 590.4 536.0 589.6C534.6 588.7 532.1 587.8 530.8 587.0C529.5 586.2 527.9 585.3 527.2 584.4C526.5 583.6 525.9 582.5 526.2 581.3Z" fill="#85d8ff" stroke="#000" stroke-width="0.9" stroke-linejoin="round" />
<path d="M571.1 572.0C572.2 571.3 575.9 570.8 577.3 571.0C578.7 571.2 579.6 572.0 579.4 573.1C579.2 574.1 577.3 576.3 576.3 577.2C575.2 578.1 574.1 578.6 573.2 578.2C572.2 577.9 570.9 576.2 570.6 575.1C570.3 574.1 570.0 572.7 571.1 572.0Z" fill="#ccf5ff" stroke="#000" stroke-width="0.9" stroke-linejoin="round" />
<path d="M601.2 571.0C603.3 571.8 605.3 572.5 607.4 573.1C609.5 573.6 611.5 573.7 613.6 574.1C615.7 574.5 617.7 575.3 619.8 575.6C621.9 576.0 624.1 575.6 626.0 576.2C627.9 576.8 629.6 577.9 631.2 579.3C632.7 580.6 634.4 582.7 635.3 584.4C636.2 586.1 636.3 587.7 636.3 589.6C636.3 591.5 636.3 594.4 635.3 595.8C634.3 597.2 631.8 597.9 630.1 597.9C628.4 597.9 626.3 596.8 625.0 595.8C623.6 594.8 623.1 592.9 621.9 591.7C620.7 590.4 618.6 589.8 617.7 588.6C616.9 587.3 617.4 585.8 616.7 584.4C616.0 583.0 615.0 581.5 613.6 580.3C612.2 579.1 609.8 577.4 608.4 577.2C607.1 577.0 606.5 578.2 605.3 579.3C604.1 580.3 602.9 583.0 601.2 583.4C599.5 583.7 595.9 581.7 595.0 581.3C594.1 581.0 596.6 581.7 595.9 581.3C595.2 581.0 592.1 580.5 590.7 579.3C589.4 578.1 588.8 575.7 587.6 574.1C586.4 572.5 585.1 570.8 583.5 569.4C582.0 568.1 578.3 566.7 578.3 566.0C578.3 565.3 581.4 565.3 583.5 565.3C585.6 565.3 588.7 565.8 590.7 565.8C592.8 565.8 595.2 564.9 595.9 565.3C596.6 565.7 594.1 567.5 595.0 568.4C595.9 569.4 599.1 570.2 601.2 571.0Z" fill="#ccf5ff" stroke="#000" stroke-width="0.9" stroke-linejoin="round" />
<path d="M650.3 596.3C650.8 595.4 652.9 594.2 654.9 593.7C656.9 593.2 660.4 593.0 662.1 593.2C663.9 593.4 665.1 593.9 665.2 594.8C665.4 595.6 664.6 597.5 663.2 598.4C661.8 599.2 658.9 599.8 657.0 599.9C655.1 600.0 652.9 599.5 651.8 598.9C650.7 598.3 649.8 597.2 650.3 596.3Z" fill="#ccf5ff" stroke="#000" stroke-width="0.9" stroke-linejoin="round" />
<ellipse cx="618.8" cy="596.6" rx="4.1" ry="1.8" fill="#ccf5ff" stroke="#000" stroke-width="0.9"/>
<ellipse cx="539.6" cy="610.8" rx="3.7" ry="4.1" fill="#85d8ff" stroke="#000" stroke-width="0.9"/>
<ellipse cx="571.6" cy="612.8" rx="3.3" ry="3.1" fill="#85d8ff" stroke="#000" stroke-width="0.9"/>
<ellipse cx="587.6" cy="611.3" rx="3.6" ry="2.3" fill="#85d8ff" stroke="#000" stroke-width="0.9" transform="rotate(-15 587.6 611.3)"/>
<ellipse cx="608.9" cy="612.3" rx="4.1" ry="2.5" fill="#85d8ff" stroke="#000" stroke-width="0.9" transform="rotate(20 608.9 612.3)"/>
<ellipse cx="625.0" cy="611.3" rx="3.3" ry="3.1" fill="#85d8ff" stroke="#000" stroke-width="0.9"/>
<ellipse cx="742.6" cy="472.2" rx="2.4" ry="2.0" fill="#85d8ff" stroke="#000" stroke-width="0.9"/>
<path d="M692.1 623.7C692.7 623.2 694.5 622.7 695.9 622.6C697.2 622.5 699.3 622.7 700.2 623.2C701.1 623.6 701.5 624.7 701.3 625.3C701.1 626.0 700.2 626.7 699.1 627.0C698.0 627.2 696.0 627.1 694.8 627.0C693.6 626.8 692.5 626.4 692.1 625.9C691.6 625.3 691.4 624.2 692.1 623.7Z" fill="#85d8ff" stroke="#000" stroke-width="0.9" stroke-linejoin="round" />
<path d="M772.0 492.7C772.7 492.1 774.3 492.8 775.2 493.7C776.1 494.6 776.1 496.5 777.4 498.1C778.7 499.7 781.5 501.9 782.8 503.5C784.2 505.2 785.1 506.2 785.5 507.9C786.0 509.5 786.5 512.7 785.5 513.3C784.5 513.9 781.1 512.2 779.6 511.7C778.0 511.1 777.2 511.0 776.3 510.0C775.4 509.0 774.6 507.1 774.1 505.7C773.7 504.2 774.1 502.8 773.6 501.3C773.0 499.9 771.1 498.4 770.9 497.0C770.6 495.6 771.2 493.2 772.0 492.7Z" fill="#85d8ff" stroke="#000" stroke-width="0.9" stroke-linejoin="round" />
<path d="M529.3 528.6C530.0 527.5 531.2 526.7 532.1 527.1C532.9 527.4 534.3 529.6 534.4 530.9C534.6 532.2 533.3 533.5 532.9 534.8C532.5 536.2 532.3 537.7 532.1 538.9C531.8 540.2 531.9 542.0 531.3 542.6C530.8 543.2 529.4 543.3 529.0 542.6C528.5 541.8 528.7 539.4 528.6 537.9C528.4 536.4 527.8 535.3 527.9 533.8C528.1 532.2 528.6 529.7 529.3 528.6Z" fill="#85d8ff" stroke="#000" stroke-width="0.9" stroke-linejoin="round" />
<path d="M536.0 580.8C536.3 579.9 537.0 579.3 538.1 578.7C539.1 578.2 540.8 578.2 542.2 577.7C543.6 577.2 544.9 576.3 546.3 575.6C547.7 575.0 548.9 574.2 550.5 573.6C552.0 573.0 553.9 572.4 555.6 572.0C557.3 571.7 559.2 571.2 560.8 571.5C562.3 571.9 563.7 573.0 564.9 574.1C566.1 575.2 567.7 576.8 568.0 578.2C568.4 579.6 567.8 581.5 567.0 582.4C566.1 583.2 564.2 583.6 562.9 583.4C561.5 583.2 560.1 581.5 558.7 581.3C557.3 581.2 556.0 582.4 554.6 582.4C553.2 582.4 551.8 581.8 550.5 581.3C549.1 580.9 547.5 579.9 546.3 579.8C545.1 579.6 544.1 579.7 543.2 580.3C542.4 580.9 541.3 582.2 541.2 583.4C541.0 584.6 542.3 586.6 542.2 587.5C542.1 588.5 541.3 589.2 540.6 589.1C540.0 589.0 538.8 587.8 538.1 587.0C537.3 586.2 536.3 585.5 536.0 584.4C535.6 583.4 535.6 581.8 536.0 580.8Z" fill="#4fb0f5" stroke="#000" stroke-width="0.9" stroke-linejoin="round" />
<path d="M585.6 555.5C585.8 555.1 588.9 553.6 589.7 553.4C590.5 553.3 593.4 553.5 593.8 553.9C594.3 554.4 594.5 556.8 594.4 557.6C594.3 558.3 593.3 561.0 592.8 561.2C592.3 561.4 590.3 560.0 589.7 559.6C589.1 559.3 587.5 558.0 587.1 557.6C586.7 557.1 585.3 555.9 585.6 555.5Z" fill="#4fb0f5" stroke="#000" stroke-width="0.9" stroke-linejoin="round" />
<ellipse cx="585.1" cy="588.6" rx="3.6" ry="2.2" fill="#4fb0f5" stroke="#000" stroke-width="0.9" transform="rotate(-20 585.1 588.6)"/>
<ellipse cx="587.1" cy="519.3" rx="3.4" ry="1.5" fill="#4fb0f5" stroke="#000" stroke-width="0.9"/>
<ellipse cx="633.7" cy="573.3" rx="1.9" ry="1.0" fill="#4fb0f5" stroke="#000" stroke-width="0.9"/>
<ellipse cx="576.5" cy="462.5" rx="3.7" ry="1.5" fill="#ffe680" stroke="#000" stroke-width="0.9" transform="rotate(-8 576.5 462.5)"/>
<ellipse cx="784.1" cy="456.2" rx="3.3" ry="4.6" fill="#ffe680" stroke="#000" stroke-width="0.9"/>
<ellipse cx="511.7" cy="607.1" rx="5.2" ry="4.8" fill="#ffe680" stroke="#000" stroke-width="0.9"/>
<ellipse cx="510.0" cy="607.7" rx="3.1" ry="2.9" fill="#ffe680" stroke="#000" stroke-width="0.9"/>
<ellipse cx="509.8" cy="607.7" rx="2.5" ry="2.3" fill="#ffa000" stroke="none" stroke-width="0.9"/>
<ellipse cx="509.5" cy="607.7" rx="1.4" ry="1.4" fill="#ff7800" stroke="none" stroke-width="0.9"/>
<path d="M551.0 546.7C551.3 547.0 552.9 549.5 553.0 550.3C553.1 551.2 552.3 554.4 552.0 555.5C551.7 556.6 550.8 560.5 550.5 561.7C550.1 562.9 548.8 566.7 548.4 567.9C548.0 569.1 547.2 573.2 546.8 574.1C546.5 575.0 545.4 576.4 544.8 576.7C544.2 577.0 541.3 577.4 540.6 577.2C540.0 576.9 538.9 574.8 538.6 574.1C538.3 573.4 538.0 570.8 537.9 570.0C537.7 569.1 537.5 566.8 537.5 565.8C537.6 564.9 537.9 561.6 538.1 560.7C538.2 559.7 538.8 557.1 539.1 556.5C539.4 555.9 540.6 554.9 541.2 554.5C541.7 554.0 543.6 552.9 544.3 552.4C544.9 551.9 546.8 550.3 547.4 549.8C547.9 549.3 549.1 548.1 549.4 547.7C549.8 547.4 550.6 546.5 551.0 546.7Z" fill="#fff" stroke="#000" stroke-width="1.0" stroke-linejoin="round" />
<path d="M622.9 495.6C623.5 495.2 624.4 495.7 625.0 496.6C625.5 497.4 626.1 499.5 626.2 500.7C626.3 501.9 625.9 503.1 625.5 503.8C625.0 504.5 624.0 505.0 623.4 504.9C622.8 504.7 622.0 503.8 621.7 502.8C621.3 501.8 621.1 499.9 621.3 498.7C621.5 497.4 622.3 495.9 622.9 495.6Z" fill="#fff" stroke="#000" stroke-width="1.0" stroke-linejoin="round" />
<path d="M707.9 498.9L713.5 493.4" fill="none" stroke="#000" stroke-width="1.3" stroke-linejoin="round" />
<path d="M507.6 449.9C507.9 450.1 510.6 452.2 511.2 452.7C511.8 453.2 514.7 455.1 515.3 455.8C515.9 456.5 517.9 460.1 518.4 460.9C518.9 461.8 521.1 465.3 521.5 466.1C522.0 467.0 523.1 470.4 523.6 471.3C524.1 472.1 526.7 475.6 527.2 476.4C527.7 477.3 529.3 480.3 529.8 481.1C530.3 481.9 532.8 485.1 533.4 485.7C534.0 486.4 536.2 488.8 536.5 489.4C536.8 489.9 536.8 491.6 537.0 491.9C537.2 492.3 538.5 493.9 539.1 494.0C539.7 494.1 543.4 493.6 544.3 493.5C545.1 493.4 548.6 492.6 549.4 492.5C550.2 492.3 553.0 491.7 553.6 491.6C554.1 491.5 555.4 491.2 555.6 491.4C555.8 491.6 556.0 493.4 555.8 494.0C555.7 494.6 553.9 497.9 553.6 498.7C553.2 499.4 551.8 502.1 551.5 502.8C551.1 503.5 549.9 506.2 549.4 506.9C548.9 507.6 546.5 510.4 545.8 511.0C545.1 511.7 541.9 514.1 541.2 514.7C540.4 515.3 537.7 517.7 537.0 518.3C536.4 518.9 533.9 521.4 533.4 521.9C532.9 522.4 531.1 524.0 530.8 524.5C530.5 525.0 530.0 527.1 529.8 527.6C529.6 528.1 528.5 530.2 528.2 530.7C528.0 531.2 527.2 533.3 527.2 533.8C527.2 534.3 528.1 536.2 528.2 536.9C528.4 537.6 529.1 541.3 529.3 542.0C529.5 542.8 530.7 545.4 530.8 546.2C531.0 547.0 531.5 550.6 531.3 551.4C531.2 552.1 529.9 554.8 529.3 555.5C528.6 556.2 524.4 558.9 523.6 559.6C522.8 560.3 519.9 563.2 519.5 563.8C519.0 564.4 517.9 566.3 517.9 566.9C517.9 567.4 519.4 569.3 519.5 570.0C519.5 570.6 518.8 574.5 518.4 575.1C518.1 575.7 515.8 576.8 515.3 577.2C514.9 577.5 513.5 578.7 513.3 579.3C513.0 579.8 512.6 582.7 512.2 583.4C511.9 584.1 509.5 586.9 509.1 587.5C508.7 588.1 507.8 590.0 507.6 590.6C507.4 591.2 507.1 594.1 507.1 594.8C507.0 595.4 507.0 597.4 506.9 597.9C506.8 598.3 505.9 599.7 505.8 599.9" fill="none" stroke="#000" stroke-width="1.0" stroke-linejoin="round" />
<path d="M513.1 449.9C513.2 450.2 515.0 453.3 515.3 453.4C515.7 453.5 517.0 451.4 517.2 451.3C517.4 451.3 517.9 452.3 518.0 452.4" fill="none" stroke="#000" stroke-width="1.0" stroke-linejoin="round" />
<path d="M515.8 453.7C516.2 454.0 519.8 456.6 520.5 457.3C521.2 458.1 523.6 461.8 524.1 462.5C524.7 463.2 526.9 465.0 527.2 465.6C527.6 466.2 527.9 468.5 528.2 469.2C528.6 469.9 531.3 473.0 531.9 473.9C532.4 474.7 534.6 478.2 535.0 479.0C535.3 479.8 536.3 482.3 536.5 483.2C536.7 484.0 536.8 488.5 537.2 488.8C537.7 489.2 541.3 488.0 542.2 487.8C543.0 487.6 546.5 486.6 547.4 486.3C548.2 485.9 551.7 484.1 552.5 483.7C553.4 483.3 556.8 482.0 557.7 481.6C558.5 481.2 562.1 479.4 562.9 479.0C563.6 478.6 566.3 477.4 567.0 477.0C567.6 476.5 570.1 474.5 570.6 473.9C571.1 473.3 572.8 470.3 573.2 469.7C573.6 469.1 575.8 467.4 575.8 466.8C575.8 466.3 573.6 464.1 573.2 463.5C572.8 463.0 571.5 460.9 571.1 460.4C570.7 459.9 568.9 457.3 568.5 457.3C568.2 457.3 567.5 460.0 567.0 460.4C566.5 460.9 563.5 462.2 562.9 462.5C562.2 462.8 559.3 463.5 558.7 463.5C558.1 463.5 556.0 462.8 555.6 462.5C555.3 462.2 554.9 459.9 554.6 459.4C554.2 458.9 551.9 456.8 551.5 456.3C551.1 455.8 549.7 453.7 549.4 453.2C549.1 452.7 548.0 450.4 547.9 450.1" fill="none" stroke="#000" stroke-width="1.0" stroke-linejoin="round" />
<path d="M553.0 450.1C553.3 450.4 555.0 452.7 555.6 453.2C556.3 453.7 560.0 456.0 560.8 456.3C561.6 456.6 564.3 457.3 564.9 457.3C565.5 457.3 567.5 456.3 568.0 456.5C568.5 456.7 570.6 458.8 571.1 459.2C571.6 459.6 573.2 461.2 573.7 461.3C574.2 461.4 576.5 460.5 577.3 460.4C578.1 460.3 582.4 460.0 583.5 459.9C584.6 459.9 589.8 459.6 590.7 459.9C591.7 460.2 594.5 463.1 594.9 463.5C595.2 464.0 594.7 464.9 595.0 465.1C595.3 465.3 597.5 465.7 597.9 465.9C598.3 466.1 599.3 467.5 599.3 467.7C599.4 467.9 597.9 468.0 598.1 468.2C598.3 468.4 600.7 470.3 601.2 470.2C601.7 470.2 604.0 467.5 604.3 467.7C604.6 467.8 605.1 470.9 605.3 471.8C605.5 472.7 606.2 476.9 606.6 478.0C606.9 479.1 609.0 484.0 609.5 485.2C610.0 486.4 612.1 491.4 612.6 492.5C613.0 493.5 614.3 497.0 614.6 497.6C615.0 498.3 616.3 500.3 616.7 500.2C617.1 500.1 618.9 497.2 619.3 496.6C619.7 495.9 621.1 493.2 621.3 492.5C621.6 491.7 622.0 488.1 622.1 487.3C622.2 486.5 622.0 483.2 622.4 482.6C622.7 482.0 625.3 480.5 626.0 480.1C626.7 479.6 629.9 478.1 630.6 477.5C631.4 476.9 634.6 473.6 635.3 472.8C636.0 472.1 638.6 469.1 639.4 468.7C640.2 468.3 643.9 467.9 644.6 467.7C645.3 467.4 647.8 466.1 648.2 466.1C648.6 466.2 649.4 467.9 649.5 468.2C649.7 468.5 649.7 469.2 650.0 469.6C650.3 469.9 652.2 471.6 652.6 472.2C653.0 472.8 654.9 475.8 655.2 476.5C655.5 477.2 655.7 480.5 656.1 480.9C656.4 481.2 659.1 480.5 659.6 480.4C660.0 480.4 661.4 479.7 661.7 480.0C662.0 480.3 662.8 482.8 663.0 483.5C663.3 484.2 664.1 487.9 664.3 488.7C664.6 489.5 665.6 492.3 665.7 493.0C665.7 493.8 664.7 496.7 664.8 497.4C664.9 498.0 666.2 500.2 666.5 500.9C666.8 501.5 668.3 504.5 668.7 505.2C669.1 505.9 670.5 508.9 670.9 509.6C671.3 510.2 673.0 512.5 673.5 513.0C673.9 513.6 675.7 515.5 676.1 515.7C676.4 515.8 677.8 515.6 677.8 515.2C677.8 514.9 676.3 511.9 676.1 511.3C675.9 510.7 675.9 508.4 675.7 507.8C675.4 507.2 673.9 504.9 673.5 504.3C673.1 503.8 671.3 501.4 670.9 500.9C670.5 500.3 669.0 498.0 668.7 497.4C668.4 496.8 667.5 494.5 667.4 493.9C667.2 493.3 666.8 490.5 667.0 490.0C667.1 489.5 668.3 487.9 668.7 487.8C669.1 487.8 671.2 488.8 671.7 489.1C672.3 489.5 674.7 491.6 675.2 492.2C675.7 492.7 677.4 495.1 677.8 495.7C678.2 496.2 679.6 498.3 680.0 498.3C680.4 498.3 682.5 496.1 683.0 495.7C683.6 495.3 686.0 493.9 686.5 493.5C687.0 493.0 688.8 491.1 689.1 490.4C689.4 489.8 690.1 486.8 690.0 486.1C689.9 485.4 688.6 482.4 688.3 481.7C687.9 481.1 686.1 478.8 685.7 478.3C685.2 477.8 683.0 476.1 682.6 475.7C682.2 475.3 681.2 473.9 681.3 473.5C681.4 473.0 683.0 470.4 683.5 470.0C684.0 469.6 686.8 468.3 687.4 468.3C688.0 468.2 689.9 469.5 690.4 469.6C690.9 469.6 692.8 469.3 693.5 469.1C694.2 468.9 697.8 467.6 698.7 467.4C699.6 467.1 703.1 466.4 703.9 466.1C704.7 465.8 707.7 464.3 708.3 463.9C708.8 463.6 710.5 462.1 710.9 461.7C711.3 461.3 712.7 459.4 713.0 459.1C713.4 458.9 714.3 458.8 714.6 458.4C714.9 458.0 716.2 455.2 716.5 454.6C716.8 454.0 717.9 452.0 718.2 451.6C718.4 451.1 719.0 449.6 719.1 449.4" fill="none" stroke="#000" stroke-width="1.0" stroke-linejoin="round" />
<path d="M658.3 504.8C658.5 505.1 660.7 507.8 661.3 508.7C661.9 509.6 665.0 514.6 665.7 515.7C666.3 516.7 668.6 520.8 669.1 521.7C669.7 522.7 672.0 526.2 672.6 527.0C673.3 527.7 676.3 530.4 677.0 530.9C677.6 531.3 680.5 532.7 680.9 532.3C681.2 532.0 681.0 527.7 681.0 527.0C680.9 526.2 680.7 523.6 680.4 523.0C680.2 522.5 678.6 521.3 678.3 520.9C677.9 520.4 676.6 517.8 676.1 517.4C675.6 517.0 673.2 516.9 672.6 516.5C672.0 516.2 669.7 513.7 669.1 513.0C668.6 512.4 666.2 509.3 665.7 508.7C665.1 508.1 662.8 506.4 662.2 506.1C661.6 505.8 658.6 504.9 658.3 504.8" fill="none" stroke="#000" stroke-width="1.0" stroke-linejoin="round" />
<path d="M510.7 518.8C511.1 518.7 514.8 518.0 515.3 518.1C515.8 518.1 516.6 518.8 516.6 519.3C516.5 519.8 515.3 523.5 514.8 524.0C514.3 524.4 511.1 524.7 510.7 524.5C510.3 524.3 510.2 521.9 510.2 521.4C510.2 520.9 510.6 519.0 510.7 518.8" fill="none" stroke="#000" stroke-width="1.0" stroke-linejoin="round" />
<path d="M689.1 513.0C689.3 513.0 690.5 512.2 690.9 512.2C691.2 512.1 693.1 512.7 693.5 512.6C693.8 512.5 694.8 511.6 695.2 511.3C695.7 511.0 698.1 509.1 698.7 508.7C699.3 508.3 701.6 506.5 702.2 506.1C702.8 505.7 705.2 503.8 705.7 503.5C706.1 503.2 707.4 502.5 707.8 502.6C708.3 502.8 710.5 504.8 710.9 505.2C711.2 505.6 711.8 507.1 711.7 507.4C711.6 507.7 709.7 508.3 709.6 508.7C709.4 509.1 709.9 511.6 710.0 512.2C710.1 512.8 710.9 515.1 710.9 515.7C710.8 516.2 709.5 518.6 709.1 519.1C708.8 519.7 707.2 522.0 707.0 522.6C706.7 523.2 706.0 525.7 705.7 526.1C705.3 526.5 703.6 527.8 703.0 527.8C702.5 527.8 700.1 526.3 699.6 526.1C699.0 525.9 696.7 525.3 696.1 525.2C695.5 525.1 693.0 525.1 692.6 524.8C692.2 524.4 691.2 521.5 690.9 520.9C690.6 520.3 689.3 517.9 689.1 517.4C688.9 516.9 688.3 515.1 688.3 514.8C688.3 514.4 689.1 513.2 689.1 513.0" fill="none" stroke="#000" stroke-width="1.0" stroke-linejoin="round" />
<path d="M715.4 476.1C715.8 476.1 719.3 475.5 719.7 475.8C720.1 476.0 720.4 478.5 720.3 479.0C720.3 479.5 719.2 481.5 719.0 482.0C718.8 482.4 717.7 484.2 717.7 484.6C717.7 484.9 718.7 486.4 719.0 486.5C719.4 486.7 721.6 486.4 722.0 486.5C722.4 486.6 723.5 487.5 723.9 487.8C724.3 488.2 726.2 490.1 726.5 490.4C726.8 490.8 727.5 492.1 727.5 492.4C727.5 492.7 727.1 494.2 726.9 494.4C726.6 494.5 724.9 493.7 724.6 493.7C724.2 493.7 722.7 494.7 722.3 494.7C721.9 494.6 720.3 493.4 720.0 493.0C719.7 492.7 718.6 491.1 718.4 490.8C718.1 490.4 717.0 488.9 716.7 488.5C716.5 488.1 715.7 486.3 715.4 485.9C715.2 485.4 713.9 483.5 713.8 482.9C713.7 482.4 714.0 480.2 714.1 479.7C714.3 479.1 715.3 476.4 715.4 476.1" fill="none" stroke="#000" stroke-width="1.0" stroke-linejoin="round" />
<path d="M717.4 486.5C717.7 486.6 720.5 487.6 720.7 487.8C720.8 488.1 718.9 489.3 719.0 489.5C719.2 489.7 722.2 489.9 722.3 490.1C722.4 490.3 720.2 491.6 720.3 491.7C720.5 491.9 723.5 491.3 723.9 491.4C724.3 491.5 725.3 492.8 725.2 493.0C725.1 493.3 722.7 493.8 722.6 494.0C722.6 494.2 724.7 495.5 724.6 495.7C724.5 495.8 722.0 496.1 721.6 496.0C721.2 495.9 719.7 494.5 719.7 494.7C719.6 494.8 721.4 497.4 721.3 497.6C721.3 497.8 719.2 497.0 719.0 497.0" fill="none" stroke="#000" stroke-width="1.0" stroke-linejoin="round" />
<path d="M720.0 487.2C720.2 487.3 722.2 488.6 722.6 488.8C723.0 489.1 724.3 489.9 724.6 490.1C724.8 490.4 725.9 491.5 725.9 491.7C725.8 492.0 724.6 492.7 724.2 492.7C723.9 492.8 722.3 492.6 722.0 492.4C721.7 492.2 720.8 490.9 720.7 490.8" fill="none" stroke="#000" stroke-width="1.0" stroke-linejoin="round" />
<path d="M722.6 498.9C722.8 498.8 724.2 497.5 724.6 497.3C725.0 497.1 727.1 496.5 727.5 496.6C727.9 496.8 729.0 498.5 729.1 498.9C729.2 499.4 729.0 501.7 728.8 502.2C728.6 502.7 727.2 504.6 726.9 504.8C726.5 505.0 724.9 505.0 724.6 504.8C724.2 504.6 723.1 503.2 722.9 502.8C722.7 502.5 722.3 501.2 722.3 500.9C722.3 500.6 722.6 499.1 722.6 498.9" fill="none" stroke="#000" stroke-width="1.0" stroke-linejoin="round" />
<path d="M714.8 517.2C715.1 517.1 717.4 516.6 718.0 516.5C718.6 516.5 721.4 517.0 722.0 516.9C722.6 516.8 724.8 515.3 725.2 515.2C725.6 515.1 726.6 515.4 726.5 515.6C726.4 515.7 724.5 517.0 723.9 517.2C723.4 517.4 720.4 517.8 720.0 518.0C719.6 518.1 719.2 518.1 719.0 518.6C718.9 519.1 717.9 523.0 718.0 523.7C718.2 524.4 720.0 526.5 720.3 527.0C720.6 527.5 721.7 529.3 721.6 529.6C721.6 529.9 720.3 531.0 720.0 530.9C719.7 530.7 718.4 528.1 718.0 527.6C717.7 527.2 716.3 525.6 716.1 525.7C715.9 525.7 715.5 527.8 715.4 528.3C715.3 528.8 715.0 531.3 714.8 531.5C714.6 531.8 713.0 531.2 712.8 530.9C712.7 530.6 713.3 528.1 713.2 527.6C713.0 527.2 711.3 526.2 711.2 525.7C711.1 525.2 711.6 522.5 711.5 521.8C711.4 521.0 709.9 517.6 709.9 517.2C709.9 516.8 711.3 516.4 711.5 516.5C711.8 516.7 712.6 519.1 712.8 519.1C713.1 519.2 714.6 517.3 714.8 517.2" fill="none" stroke="#000" stroke-width="1.0" stroke-linejoin="round" />
<path d="M731.4 514.2C731.6 514.3 733.4 514.4 733.7 514.6C734.0 514.8 734.7 516.3 734.7 516.5C734.6 516.8 733.1 517.5 733.0 517.8C733.0 518.2 733.8 520.3 733.7 520.4C733.6 520.6 732.0 520.1 731.7 519.8C731.5 519.5 731.1 517.6 731.1 517.2C731.1 516.7 731.4 514.5 731.4 514.2" fill="none" stroke="#000" stroke-width="1.0" stroke-linejoin="round" />
<path d="M718.0 501.5C718.3 501.4 720.9 500.6 721.3 500.6C721.7 500.6 722.5 501.4 722.6 501.5" fill="none" stroke="#000" stroke-width="1.0" stroke-linejoin="round" />
<path d="M680.9 532.3C681.2 532.4 683.9 532.9 684.8 533.0C685.6 533.2 689.9 534.1 690.9 534.3C691.9 534.6 696.0 535.4 697.0 535.7C697.9 535.9 701.4 537.2 702.2 537.4C703.0 537.6 705.8 538.2 706.5 538.3C707.2 538.4 710.9 538.6 710.9 538.7C710.8 538.8 706.7 539.6 705.7 539.6C704.6 539.6 699.7 538.9 698.7 538.7C697.7 538.5 694.5 537.6 693.5 537.4C692.5 537.1 687.5 535.9 686.5 535.7C685.5 535.4 681.8 534.2 681.3 533.9C680.8 533.6 680.9 532.5 680.9 532.3" fill="none" stroke="#000" stroke-width="1.0" stroke-linejoin="round" />
<path d="M710.9 538.7C711.0 538.6 712.2 537.8 712.6 537.8C713.0 537.9 715.5 539.3 716.1 539.3C716.7 539.3 719.0 538.3 719.6 538.3C720.1 538.2 723.0 538.8 723.0 539.0C723.0 539.1 720.2 539.9 719.6 540.0C718.9 540.1 715.9 540.5 715.2 540.4C714.5 540.4 711.6 539.6 711.3 539.6" fill="none" stroke="#000" stroke-width="1.0" stroke-linejoin="round" />
<path d="M723.9 541.3C724.1 541.1 726.1 538.7 726.5 538.3C727.0 537.9 729.2 536.6 729.6 536.5C729.9 536.4 731.0 537.1 730.9 537.4C730.8 537.7 728.7 539.6 728.3 540.0C727.8 540.4 726.0 542.1 725.7 542.2C725.3 542.3 724.1 541.4 723.9 541.3" fill="none" stroke="#000" stroke-width="1.0" stroke-linejoin="round" />
<path d="M738.3 518.8C738.5 518.9 741.0 519.7 741.5 519.8C742.0 519.8 743.7 519.3 744.1 519.5C744.6 519.6 746.6 521.4 746.7 521.8C746.9 522.1 745.8 523.5 745.4 523.7C745.1 523.9 743.2 524.1 742.8 524.0C742.5 523.9 741.5 522.7 741.2 522.4C740.9 522.1 739.2 520.7 738.9 520.4C738.7 520.1 738.3 519.0 738.3 518.8" fill="none" stroke="#000" stroke-width="1.0" stroke-linejoin="round" />
<path d="M746.7 521.8C747.0 522.1 749.5 526.2 750.0 526.3C750.5 526.5 752.2 524.0 752.6 523.7C753.1 523.4 754.6 522.5 755.2 522.4C755.8 522.3 759.0 522.8 759.8 523.1C760.6 523.3 763.8 524.6 765.0 525.0C766.2 525.4 772.9 527.0 774.1 527.4C775.3 527.9 778.6 530.2 779.6 530.7C780.5 531.2 785.0 533.2 785.5 533.4" fill="none" stroke="#000" stroke-width="1.0" stroke-linejoin="round" />
<path d="M785.5 540.5C785.0 540.2 779.3 537.8 778.5 537.2C777.6 536.7 775.9 534.3 775.2 534.0C774.6 533.6 771.5 532.9 770.9 532.9C770.2 532.9 768.2 533.6 767.6 534.0C767.1 534.3 765.0 537.0 764.3 537.2C763.7 537.4 760.6 536.1 760.0 536.1C759.4 536.1 757.1 537.5 756.7 537.2C756.4 536.9 755.6 533.2 755.7 532.9C755.7 532.5 757.3 533.1 757.2 532.8C757.0 532.6 754.6 530.0 753.9 529.6C753.3 529.1 750.2 527.9 749.4 527.6C748.5 527.3 744.7 526.0 744.1 525.7C743.6 525.4 742.9 524.2 742.8 524.0" fill="none" stroke="#000" stroke-width="1.0" stroke-linejoin="round" />
<path d="M685.0 532.9C685.5 533.0 690.4 533.9 691.5 534.2C692.6 534.4 696.8 535.3 698.0 535.6C699.3 535.9 705.3 537.2 706.7 537.4C708.2 537.7 714.2 538.4 715.4 538.5C716.7 538.6 722.0 538.9 722.0 539.0C722.0 539.0 716.7 539.4 715.4 539.4C714.2 539.4 708.2 538.7 706.7 538.5C705.3 538.3 699.3 537.2 698.0 537.0C696.8 536.8 692.6 535.8 691.5 535.6C690.4 535.4 685.5 534.6 685.0 534.5" fill="none" stroke="#000" stroke-width="1.0" stroke-linejoin="round" />
<path d="M723.0 538.8C723.3 538.7 725.7 537.4 726.3 537.2C726.9 537.0 729.9 536.3 730.1 536.3C730.3 536.4 729.0 538.0 728.5 538.3C728.0 538.6 724.5 540.1 724.1 540.3" fill="none" stroke="#000" stroke-width="1.0" stroke-linejoin="round" />
<path d="M699.7 578.6C699.6 578.1 699.0 573.4 699.1 572.6C699.2 571.8 700.1 569.3 700.8 568.8C701.4 568.3 705.7 566.4 706.7 566.1C707.8 565.7 712.4 564.8 713.3 564.5C714.2 564.1 717.1 562.8 717.6 562.3C718.2 561.8 719.3 559.0 719.8 558.5C720.2 558.0 722.5 556.8 723.0 556.3C723.6 555.9 725.7 553.5 726.3 553.0C726.9 552.6 730.0 550.9 730.7 550.9C731.3 550.9 733.5 553.0 733.9 553.0C734.4 553.1 735.8 552.5 736.1 552.0C736.4 551.4 736.9 547.1 737.2 546.5C737.4 545.9 738.8 544.9 739.3 544.9C739.9 544.8 743.0 545.9 743.7 546.0C744.4 546.0 747.3 545.3 748.0 545.4C748.8 545.5 752.5 546.7 752.9 547.1C753.4 547.4 753.7 549.5 753.5 549.8C753.3 550.1 750.9 550.6 750.8 550.9C750.6 551.2 750.9 553.1 751.3 553.6C751.7 554.0 754.9 555.9 755.7 556.3C756.4 556.8 759.5 558.8 760.0 559.0C760.5 559.3 761.8 560.1 762.2 559.6C762.5 559.1 764.1 554.1 764.3 553.0C764.6 552.0 765.3 547.3 765.4 546.5C765.6 545.8 766.3 543.8 766.5 543.8C766.7 543.8 767.9 545.9 768.2 546.5C768.4 547.1 768.9 550.2 769.2 550.9C769.6 551.5 771.5 553.3 772.0 554.1C772.5 554.9 774.6 559.8 775.2 560.7C775.9 561.5 778.9 563.8 779.6 564.5C780.2 565.1 782.3 567.6 782.8 568.3C783.3 568.9 785.3 572.2 785.5 572.6" fill="none" stroke="#000" stroke-width="1.0" stroke-linejoin="round" />
<path d="M699.7 578.6C699.8 579.0 701.0 582.6 701.3 583.5C701.6 584.3 703.2 588.0 703.5 588.9C703.8 589.8 704.6 593.7 704.6 594.3C704.5 595.0 702.9 596.2 702.9 596.5C702.9 596.9 704.1 598.5 704.6 598.7C705.1 598.9 708.2 599.3 708.9 599.2C709.6 599.1 712.4 597.8 713.3 597.6C714.1 597.4 717.8 596.7 718.7 596.5C719.6 596.3 723.3 595.2 724.1 594.9C724.9 594.6 727.7 593.5 728.5 593.3C729.3 593.0 733.0 591.8 733.9 591.6C734.8 591.4 738.5 591.0 739.3 591.1C740.2 591.1 743.0 591.9 743.7 592.2C744.4 592.4 747.6 593.9 748.0 594.3C748.5 594.8 748.8 597.2 749.1 597.6C749.5 598.0 751.9 598.9 752.4 598.7C752.8 598.5 754.3 595.4 754.6 595.4C754.8 595.5 755.2 598.5 755.7 599.2C756.1 600.0 759.4 603.5 760.0 604.1C760.6 604.7 762.6 606.0 763.3 606.3C763.9 606.6 766.9 607.9 767.6 607.9C768.3 607.9 771.3 606.3 772.0 606.3C772.6 606.3 774.6 608.5 775.2 608.5C775.9 608.5 778.7 606.6 779.6 606.3C780.4 606.0 785.0 605.1 785.5 605.0" fill="none" stroke="#000" stroke-width="1.0" stroke-linejoin="round" />
<path d="M772.0 612.8C772.3 612.7 775.6 611.7 776.3 611.7C777.0 611.7 780.2 612.5 780.7 612.8C781.1 613.2 781.4 615.6 781.2 616.1C781.0 616.5 779.0 618.0 778.5 618.3C778.0 618.5 775.7 619.5 775.2 619.3C774.8 619.2 773.3 617.2 773.0 616.6C772.8 616.1 772.0 613.1 772.0 612.8" fill="none" stroke="#000" stroke-width="1.0" stroke-linejoin="round" />
<path d="M685.0 480.7C685.3 481.0 688.4 483.3 688.8 484.0C689.2 484.6 689.4 487.6 689.3 488.3C689.3 489.0 688.1 492.1 687.7 492.7C687.4 493.2 685.2 494.6 685.0 494.8" fill="none" stroke="#000" stroke-width="1.0" stroke-linejoin="round" />
<ellipse cx="690.4" cy="473.9" rx="2.4" ry="2.3" fill="none" stroke="#000" stroke-width="1.0"/>
<ellipse cx="717.0" cy="463.5" rx="1.5" ry="3.9" fill="none" stroke="#000" stroke-width="1.0" transform="rotate(10 717.0 463.5)"/>
<ellipse cx="598.8" cy="468.2" rx="2.1" ry="1.3" fill="#fff" stroke="#000" stroke-width="1.0" transform="rotate(-20 598.8 468.2)"/>
<ellipse cx="724.7" cy="615.5" rx="1.2" ry="1.8" fill="none" stroke="#000" stroke-width="1.0" transform="rotate(8 724.7 615.5)"/>
<ellipse cx="780.1" cy="615.5" rx="0.9" ry="1.3" fill="none" stroke="#000" stroke-width="1.0"/>
<ellipse cx="561.6" cy="489.9" rx="1.3" ry="0.6" fill="#111" stroke="none" stroke-width="0.9"/>
<ellipse cx="556.3" cy="496.8" rx="0.4" ry="0.4" fill="#111" stroke="none" stroke-width="0.9"/>
<ellipse cx="646.1" cy="490.4" rx="0.6" ry="0.6" fill="#111" stroke="none" stroke-width="0.9"/>
<ellipse cx="651.6" cy="489.6" rx="0.4" ry="1.0" fill="#111" stroke="none" stroke-width="0.9"/>
<ellipse cx="556.1" cy="609.7" rx="0.6" ry="0.7" fill="#111" stroke="none" stroke-width="0.9"/>
<ellipse cx="579.4" cy="557.0" rx="0.6" ry="0.6" fill="#111" stroke="none" stroke-width="0.9"/>
<ellipse cx="570.1" cy="565.3" rx="0.6" ry="0.6" fill="#111" stroke="none" stroke-width="0.9"/>
<ellipse cx="650.8" cy="608.2" rx="0.8" ry="1.0" fill="#111" stroke="none" stroke-width="0.9"/>
<ellipse cx="669.4" cy="610.8" rx="1.0" ry="1.3" fill="#111" stroke="none" stroke-width="0.9"/>
<ellipse cx="686.4" cy="600.7" rx="1.2" ry="0.6" fill="#111" stroke="none" stroke-width="0.9"/>
<ellipse cx="697.0" cy="588.9" rx="0.8" ry="1.0" fill="#111" stroke="none" stroke-width="0.9"/>
<ellipse cx="717.4" cy="619.1" rx="0.4" ry="0.4" fill="#111" stroke="none" stroke-width="0.9"/>
<ellipse cx="713.3" cy="540.9" rx="1.3" ry="0.9" fill="#111" stroke="none" stroke-width="0.9"/>
<ellipse cx="729.5" cy="526.3" rx="1.0" ry="0.8" fill="#111" stroke="none" stroke-width="0.9"/>
<ellipse cx="736.0" cy="526.1" rx="2.9" ry="0.8" fill="#111" stroke="none" stroke-width="0.9"/>
<ellipse cx="732.1" cy="522.4" rx="0.7" ry="0.5" fill="#111" stroke="none" stroke-width="0.9"/>
<ellipse cx="725.2" cy="522.4" rx="0.9" ry="0.3" fill="#111" stroke="none" stroke-width="0.9"/>
<ellipse cx="747.4" cy="532.8" rx="0.5" ry="1.4" fill="#111" stroke="none" stroke-width="0.9"/>
<ellipse cx="740.6" cy="536.1" rx="0.7" ry="0.8" fill="#111" stroke="none" stroke-width="0.9"/>
<ellipse cx="720.7" cy="501.5" rx="0.9" ry="0.7" fill="#111" stroke="none" stroke-width="0.9"/>
<ellipse cx="750.7" cy="520.8" rx="0.9" ry="0.4" fill="#111" stroke="none" stroke-width="0.9"/>
<ellipse cx="732.6" cy="457.7" rx="0.5" ry="0.7" fill="#111" stroke="none" stroke-width="0.9"/>
<ellipse cx="736.1" cy="453.5" rx="0.5" ry="0.4" fill="#111" stroke="none" stroke-width="0.9"/>
<ellipse cx="508.1" cy="536.9" rx="0.5" ry="1.9" fill="#111" stroke="none" stroke-width="0.9"/>
<ellipse cx="516.9" cy="546.2" rx="0.7" ry="5.0" fill="#111" stroke="none" stroke-width="0.9" transform="rotate(-12 516.9 546.2)"/>
<ellipse cx="523.4" cy="623.7" rx="1.2" ry="0.5" fill="#111" stroke="none" stroke-width="0.9"/>
<ellipse cx="531.3" cy="623.9" rx="1.7" ry="0.6" fill="#111" stroke="none" stroke-width="0.9"/>
<ellipse cx="681.0" cy="523.7" rx="1.2" ry="1.0" fill="#111" stroke="none" stroke-width="0.9"/>
<ellipse cx="686.1" cy="525.2" rx="0.5" ry="0.5" fill="#111" stroke="none" stroke-width="0.9"/>
<ellipse cx="754.6" cy="599.2" rx="1.5" ry="1.3" fill="#111" stroke="none" stroke-width="0.9"/>
<ellipse cx="650.9" cy="608.0" rx="0.8" ry="1.0" fill="#111" stroke="none" stroke-width="0.9"/>
<ellipse cx="669.6" cy="610.8" rx="0.9" ry="1.2" fill="#111" stroke="none" stroke-width="0.9"/>
<ellipse cx="681.3" cy="523.7" rx="1.4" ry="1.2" fill="#111" stroke="none" stroke-width="0.9"/>
<ellipse cx="686.1" cy="525.0" rx="0.5" ry="0.5" fill="#111" stroke="none" stroke-width="0.9"/>
<ellipse cx="661.7" cy="515.2" rx="1.0" ry="0.7" fill="#111" stroke="none" stroke-width="0.9"/>
<ellipse cx="666.1" cy="522.2" rx="1.0" ry="0.7" fill="#111" stroke="none" stroke-width="0.9"/>
<text transform="translate(594.9,497.4) rotate(60)" text-anchor="middle" style="font-family:'Liberation Sans',sans-serif;font-size:4.2px;fill:#222;paint-order:stroke;stroke:#d8f7ff;stroke-width:0.8px">-0.4</text>
<text transform="translate(594.7,513.6) rotate(10)" text-anchor="middle" style="font-family:'Liberation Sans',sans-serif;font-size:4.2px;fill:#222;paint-order:stroke;stroke:#d8f7ff;stroke-width:0.8px">-0.5</text>
<text transform="translate(562.3,519.3) rotate(-40)" text-anchor="middle" style="font-family:'Liberation Sans',sans-serif;font-size:4.2px;fill:#222;paint-order:stroke;stroke:#d8f7ff;stroke-width:0.8px">-0.4</text>
<text transform="translate(596.9,533.0) rotate(0)" text-anchor="middle" style="font-family:'Liberation Sans',sans-serif;font-size:4.2px;fill:#222;paint-order:stroke;stroke:#d8f7ff;stroke-width:0.8px">-0.5</text>
<text transform="translate(658.5,502.0) rotate(30)" text-anchor="middle" style="font-family:'Liberation Sans',sans-serif;font-size:4.2px;fill:#222;paint-order:stroke;stroke:#d8f7ff;stroke-width:0.8px">-0.4</text>
<text transform="translate(598.1,533.0) rotate(0)" text-anchor="middle" style="font-family:'Liberation Sans',sans-serif;font-size:4.2px;fill:#222;paint-order:stroke;stroke:#d8f7ff;stroke-width:0.8px">-0.5</text>
<text transform="translate(603.8,540.8) rotate(20)" text-anchor="middle" style="font-family:'Liberation Sans',sans-serif;font-size:4.2px;fill:#222;paint-order:stroke;stroke:#d8f7ff;stroke-width:0.8px">-0.4</text>
<text transform="translate(518.4,587.0) rotate(-25)" text-anchor="middle" style="font-family:'Liberation Sans',sans-serif;font-size:4.2px;fill:#222;paint-order:stroke;stroke:#d8f7ff;stroke-width:0.8px">-0.4</text>
<text transform="translate(566.0,592.9) rotate(-75)" text-anchor="middle" style="font-family:'Liberation Sans',sans-serif;font-size:4.2px;fill:#222;paint-order:stroke;stroke:#d8f7ff;stroke-width:0.8px">-0.5</text>
<text transform="translate(534.4,611.3) rotate(-70)" text-anchor="middle" style="font-family:'Liberation Sans',sans-serif;font-size:4.2px;fill:#222;paint-order:stroke;stroke:#d8f7ff;stroke-width:0.8px">-0.4</text>
<text transform="translate(595.9,615.9) rotate(20)" text-anchor="middle" style="font-family:'Liberation Sans',sans-serif;font-size:4.2px;fill:#222;paint-order:stroke;stroke:#d8f7ff;stroke-width:0.8px">-0.4</text>
<text transform="translate(608.4,578.4) rotate(-15)" text-anchor="middle" style="font-family:'Liberation Sans',sans-serif;font-size:4.2px;fill:#222;paint-order:stroke;stroke:#d8f7ff;stroke-width:0.8px">-0.5</text>
<text transform="translate(633.7,584.4) rotate(70)" text-anchor="middle" style="font-family:'Liberation Sans',sans-serif;font-size:4.2px;fill:#222;paint-order:stroke;stroke:#d8f7ff;stroke-width:0.8px">-0.5</text>
<text transform="translate(642.5,562.2) rotate(55)" text-anchor="middle" style="font-family:'Liberation Sans',sans-serif;font-size:4.2px;fill:#222;paint-order:stroke;stroke:#d8f7ff;stroke-width:0.8px">-0.4</text>
<text transform="translate(661.6,578.4) rotate(-75)" text-anchor="middle" style="font-family:'Liberation Sans',sans-serif;font-size:4.2px;fill:#222;paint-order:stroke;stroke:#d8f7ff;stroke-width:0.8px">-0.5</text>
<text transform="translate(611.5,605.3) rotate(12)" text-anchor="middle" style="font-family:'Liberation Sans',sans-serif;font-size:4.2px;fill:#222;paint-order:stroke;stroke:#d8f7ff;stroke-width:0.8px">-0.5</text>
<text transform="translate(662.1,616.7) rotate(35)" text-anchor="middle" style="font-family:'Liberation Sans',sans-serif;font-size:4.2px;fill:#222;paint-order:stroke;stroke:#d8f7ff;stroke-width:0.8px">-0.4</text>
<text transform="translate(597.1,616.7) rotate(15)" text-anchor="middle" style="font-family:'Liberation Sans',sans-serif;font-size:4.2px;fill:#222;paint-order:stroke;stroke:#d8f7ff;stroke-width:0.8px">-0.4</text>
<text transform="translate(672.0,611.1) rotate(30)" text-anchor="middle" style="font-family:'Liberation Sans',sans-serif;font-size:4.2px;fill:#222;paint-order:stroke;stroke:#d8f7ff;stroke-width:0.8px">-0.5</text>
<text transform="translate(694.2,605.2) rotate(-80)" text-anchor="middle" style="font-family:'Liberation Sans',sans-serif;font-size:4.2px;fill:#222;paint-order:stroke;stroke:#d8f7ff;stroke-width:0.8px">-0.4</text>
<text transform="translate(575.2,543.3) rotate(-25)" text-anchor="middle" style="font-family:'Liberation Sans',sans-serif;font-size:4.2px;fill:#222;paint-order:stroke;stroke:#d8f7ff;stroke-width:0.8px">-0.4</text>
<line x1="506.7" y1="449.3" x2="783.5" y2="634.0" stroke="#000" stroke-width="1.0"/></g>
<rect x="506.7" y="449.3" width="276.80" height="184.70" fill="none" stroke="#000" stroke-width="1.25"/>
<path d="M506.70 449.3v-6.2M506.70 634.0v6.2M529.77 449.3v-3.3M529.77 634.0v3.3M552.83 449.3v-3.3M552.83 634.0v3.3M575.90 449.3v-6.2M575.90 634.0v6.2M598.97 449.3v-3.3M598.97 634.0v3.3M622.03 449.3v-3.3M622.03 634.0v3.3M645.10 449.3v-6.2M645.10 634.0v6.2M668.17 449.3v-3.3M668.17 634.0v3.3M691.23 449.3v-3.3M691.23 634.0v3.3M714.30 449.3v-6.2M714.30 634.0v6.2M737.37 449.3v-3.3M737.37 634.0v3.3M760.43 449.3v-3.3M760.43 634.0v3.3M783.50 449.3v-6.2M783.50 634.0v6.2M506.7 633.83h-3.5M783.5 633.83h3.5M506.7 610.77h-3.5M783.5 610.77h3.5M506.7 587.70h-6.4M783.5 587.70h6.4M506.7 564.63h-3.5M783.5 564.63h3.5M506.7 541.57h-3.5M783.5 541.57h3.5M506.7 518.50h-6.4M783.5 518.50h6.4M506.7 495.43h-3.5M783.5 495.43h3.5M506.7 472.37h-3.5M783.5 472.37h3.5M506.7 449.30h-6.4M783.5 449.30h6.4" stroke="#000" stroke-width="1.05" fill="none"/>
<text x="506.70" y="649.9" text-anchor="middle" style="font-family:'Liberation Sans',sans-serif;font-size:8.4px">30E</text>
<text x="575.90" y="649.9" text-anchor="middle" style="font-family:'Liberation Sans',sans-serif;font-size:8.4px">60E</text>
<text x="645.10" y="649.9" text-anchor="middle" style="font-family:'Liberation Sans',sans-serif;font-size:8.4px">90E</text>
<text x="714.30" y="649.9" text-anchor="middle" style="font-family:'Liberation Sans',sans-serif;font-size:8.4px">120E</text>
<text x="783.50" y="649.9" text-anchor="middle" style="font-family:'Liberation Sans',sans-serif;font-size:8.4px">150E</text>
<text x="497.6" y="452.30" text-anchor="end" style="font-family:'Liberation Sans',sans-serif;font-size:8.4px">30N</text>
<text x="497.6" y="521.50" text-anchor="end" style="font-family:'Liberation Sans',sans-serif;font-size:8.4px">0</text>
<text x="497.6" y="590.70" text-anchor="end" style="font-family:'Liberation Sans',sans-serif;font-size:8.4px">30S</text>
<rect x="802.6" y="451.30" width="13.40" height="25.77" fill="#ff5000" stroke="#000" stroke-width="1.1"/>
<rect x="802.6" y="477.07" width="13.40" height="25.77" fill="#ffa000" stroke="#000" stroke-width="1.1"/>
<rect x="802.6" y="502.84" width="13.40" height="25.77" fill="#ffe680" stroke="#000" stroke-width="1.1"/>
<rect x="802.6" y="528.61" width="13.40" height="25.77" fill="#ffffff" stroke="#000" stroke-width="1.1"/>
<rect x="802.6" y="554.39" width="13.40" height="25.77" fill="#ccf5ff" stroke="#000" stroke-width="1.1"/>
<rect x="802.6" y="580.16" width="13.40" height="25.77" fill="#85d8ff" stroke="#000" stroke-width="1.1"/>
<rect x="802.6" y="605.93" width="13.40" height="25.77" fill="#50b0f5" stroke="#000" stroke-width="1.1"/>
<text x="820.3" y="479.67" style="font-family:'Liberation Sans',sans-serif;font-size:7.3px">0.6</text>
<text x="820.3" y="505.44" style="font-family:'Liberation Sans',sans-serif;font-size:7.3px">0.5</text>
<text x="820.3" y="531.21" style="font-family:'Liberation Sans',sans-serif;font-size:7.3px">0.4</text>
<text x="818.2" y="556.99" style="font-family:'Liberation Sans',sans-serif;font-size:7.3px">-0.4</text>
<text x="818.2" y="582.76" style="font-family:'Liberation Sans',sans-serif;font-size:7.3px">-0.5</text>
<text x="818.2" y="608.53" style="font-family:'Liberation Sans',sans-serif;font-size:7.3px">-0.6</text>
<rect x="524.60" y="864.76" width="6.22" height="15.76" fill="#0000ff" stroke="#000" stroke-width="1.0"/>
<rect x="530.82" y="864.76" width="6.22" height="20.44" fill="#0000ff" stroke="#000" stroke-width="1.0"/>
<rect x="537.04" y="864.76" width="6.22" height="29.33" fill="#0000ff" stroke="#000" stroke-width="1.0"/>
<rect x="543.26" y="864.76" width="6.22" height="17.32" fill="#0000ff" stroke="#000" stroke-width="1.0"/>
<rect x="549.48" y="864.76" width="6.22" height="17.32" fill="#0000ff" stroke="#000" stroke-width="1.0"/>
<rect x="555.70" y="864.76" width="6.22" height="3.67" fill="#0000ff" stroke="#000" stroke-width="1.0"/>
<rect x="561.92" y="864.76" width="6.22" height="35.65" fill="#0000ff" stroke="#000" stroke-width="1.0"/>
<rect x="568.14" y="864.76" width="6.22" height="22.78" fill="#0000ff" stroke="#000" stroke-width="1.0"/>
<rect x="574.36" y="864.76" width="6.22" height="14.59" fill="#0000ff" stroke="#000" stroke-width="1.0"/>
<rect x="580.58" y="864.76" width="6.22" height="9.75" fill="#0000ff" stroke="#000" stroke-width="1.0"/>
<rect x="586.80" y="864.76" width="6.22" height="21.53" fill="#0000ff" stroke="#000" stroke-width="1.0"/>
<rect x="593.02" y="862.35" width="6.22" height="2.42" fill="#ff0000" stroke="#000" stroke-width="1.0"/>
<rect x="599.25" y="864.76" width="6.22" height="8.74" fill="#0000ff" stroke="#000" stroke-width="1.0"/>
<rect x="605.47" y="864.76" width="6.22" height="27.46" fill="#0000ff" stroke="#000" stroke-width="1.0"/>
<rect x="611.69" y="843.47" width="6.22" height="21.29" fill="#ff0000" stroke="#000" stroke-width="1.0"/>
<rect x="624.13" y="864.76" width="6.22" height="23.24" fill="#0000ff" stroke="#000" stroke-width="1.0"/>
<rect x="630.35" y="864.76" width="6.22" height="22.78" fill="#0000ff" stroke="#000" stroke-width="1.0"/>
<rect x="636.57" y="864.76" width="6.22" height="6.40" fill="#0000ff" stroke="#000" stroke-width="1.0"/>
<rect x="642.79" y="861.49" width="6.22" height="3.28" fill="#ff0000" stroke="#000" stroke-width="1.0"/>
<rect x="649.01" y="864.76" width="6.22" height="29.02" fill="#0000ff" stroke="#000" stroke-width="1.0"/>
<rect x="661.45" y="860.40" width="6.22" height="4.37" fill="#ff0000" stroke="#000" stroke-width="1.0"/>
<rect x="667.67" y="864.76" width="6.22" height="7.41" fill="#0000ff" stroke="#000" stroke-width="1.0"/>
<rect x="673.89" y="853.69" width="6.22" height="11.08" fill="#ff0000" stroke="#000" stroke-width="1.0"/>
<rect x="680.11" y="825.69" width="6.22" height="39.08" fill="#ff0000" stroke="#000" stroke-width="1.0"/>
<rect x="686.33" y="864.76" width="6.22" height="14.74" fill="#0000ff" stroke="#000" stroke-width="1.0"/>
<rect x="692.55" y="864.76" width="6.22" height="13.65" fill="#0000ff" stroke="#000" stroke-width="1.0"/>
<rect x="698.77" y="861.49" width="6.22" height="3.28" fill="#ff0000" stroke="#000" stroke-width="1.0"/>
<rect x="704.99" y="817.65" width="6.22" height="47.11" fill="#ff0000" stroke="#000" stroke-width="1.0"/>
<rect x="711.21" y="840.74" width="6.22" height="24.02" fill="#ff0000" stroke="#000" stroke-width="1.0"/>
<rect x="717.43" y="864.76" width="6.22" height="1.72" fill="#0000ff" stroke="#000" stroke-width="1.0"/>
<rect x="723.65" y="852.60" width="6.22" height="12.17" fill="#ff0000" stroke="#000" stroke-width="1.0"/>
<rect x="729.88" y="837.62" width="6.22" height="27.14" fill="#ff0000" stroke="#000" stroke-width="1.0"/>
<rect x="736.10" y="858.45" width="6.22" height="6.32" fill="#ff0000" stroke="#000" stroke-width="1.0"/>
<rect x="742.32" y="854.55" width="6.22" height="10.22" fill="#ff0000" stroke="#000" stroke-width="1.0"/>
<rect x="748.54" y="853.69" width="6.22" height="11.08" fill="#ff0000" stroke="#000" stroke-width="1.0"/>
<rect x="754.76" y="845.26" width="6.22" height="19.50" fill="#ff0000" stroke="#000" stroke-width="1.0"/>
<rect x="760.98" y="864.76" width="6.22" height="2.50" fill="#0000ff" stroke="#000" stroke-width="1.0"/>
<rect x="767.20" y="831.54" width="6.22" height="33.23" fill="#ff0000" stroke="#000" stroke-width="1.0"/>
<rect x="773.42" y="824.36" width="6.22" height="40.40" fill="#ff0000" stroke="#000" stroke-width="1.0"/>
<rect x="779.64" y="856.96" width="6.22" height="7.80" fill="#ff0000" stroke="#000" stroke-width="1.0"/>
<rect x="785.86" y="855.64" width="6.22" height="9.13" fill="#ff0000" stroke="#000" stroke-width="1.0"/>
<rect x="792.08" y="842.85" width="6.22" height="21.92" fill="#ff0000" stroke="#000" stroke-width="1.0"/>
<line x1="524.6" y1="864.76" x2="798.3" y2="864.76" stroke="#000" stroke-width="1.2"/>
<polyline points="530.68,832.27 536.76,854.56 542.85,826.70 548.93,821.13 555.01,848.99 561.09,843.41 567.18,854.56 573.26,798.84 579.34,843.41 585.42,860.13 591.50,854.56 597.59,865.70 603.67,848.99 609.75,848.99 615.83,865.70 621.92,860.13 628.00,871.27 634.08,865.70 640.16,871.27 646.24,887.99 652.33,871.27 658.41,854.56 664.49,871.27 670.57,865.70 676.66,887.99 682.74,871.27 688.82,871.27 694.90,865.70 700.98,860.13 707.07,887.99 713.15,865.70 719.23,871.27 725.31,871.27 731.40,893.56 737.48,876.84 743.56,882.41 749.64,865.70 755.72,876.84 761.81,871.27 767.89,865.70 773.97,848.99 780.05,871.27 786.14,843.41 792.22,871.27" fill="none" stroke="#0a8a0a" stroke-width="1" stroke-linejoin="round"/>
<line x1="524.6" y1="787.7" x2="798.3" y2="943.7" stroke="#000" stroke-width="1.3"/>
<rect x="524.6" y="787.7" width="273.70" height="156.00" fill="none" stroke="#000" stroke-width="1.45"/>
<path d="M527.71 787.7v-3.0M527.71 943.7v3.0M540.15 787.7v-5.8M540.15 943.7v5.8M552.59 787.7v-3.0M552.59 943.7v3.0M565.03 787.7v-3.0M565.03 943.7v3.0M577.47 787.7v-3.0M577.47 943.7v3.0M589.91 787.7v-3.0M589.91 943.7v3.0M602.36 787.7v-5.8M602.36 943.7v5.8M614.80 787.7v-3.0M614.80 943.7v3.0M627.24 787.7v-3.0M627.24 943.7v3.0M639.68 787.7v-3.0M639.68 943.7v3.0M652.12 787.7v-3.0M652.12 943.7v3.0M664.56 787.7v-5.8M664.56 943.7v5.8M677.00 787.7v-3.0M677.00 943.7v3.0M689.44 787.7v-3.0M689.44 943.7v3.0M701.88 787.7v-3.0M701.88 943.7v3.0M714.32 787.7v-3.0M714.32 943.7v3.0M726.76 787.7v-5.8M726.76 943.7v5.8M739.21 787.7v-3.0M739.21 943.7v3.0M751.65 787.7v-3.0M751.65 943.7v3.0M764.09 787.7v-3.0M764.09 943.7v3.0M776.53 787.7v-3.0M776.53 943.7v3.0M788.97 787.7v-5.8M788.97 943.7v5.8M524.6 943.70h-3.0M524.6 935.90h-3.0M524.6 928.10h-6.0M524.6 920.30h-3.0M524.6 912.50h-3.0M524.6 904.70h-3.0M524.6 896.90h-6.0M524.6 889.10h-3.0M524.6 881.30h-3.0M524.6 873.50h-3.0M524.6 865.70h-6.0M524.6 857.90h-3.0M524.6 850.10h-3.0M524.6 842.30h-3.0M524.6 834.50h-6.0M524.6 826.70h-3.0M524.6 818.90h-3.0M524.6 811.10h-3.0M524.6 803.30h-6.0M524.6 795.50h-3.0M524.6 787.70h-3.0M798.3 943.70h5.6M798.3 938.13h2.8M798.3 932.56h2.8M798.3 926.99h2.8M798.3 921.41h5.6M798.3 915.84h2.8M798.3 910.27h2.8M798.3 904.70h2.8M798.3 899.13h5.6M798.3 893.56h2.8M798.3 887.99h2.8M798.3 882.41h2.8M798.3 876.84h5.6M798.3 871.27h2.8M798.3 865.70h2.8M798.3 860.13h2.8M798.3 854.56h5.6M798.3 848.99h2.8M798.3 843.41h2.8M798.3 837.84h2.8M798.3 832.27h5.6M798.3 826.70h2.8M798.3 821.13h2.8M798.3 815.56h2.8M798.3 809.99h5.6M798.3 804.41h2.8M798.3 798.84h2.8M798.3 793.27h2.8M798.3 787.70h5.6" stroke="#000" stroke-width="1.2" fill="none"/>
<text transform="translate(540.15,960.6) scale(1.06,1)" text-anchor="middle" style="font-family:'Liberation Sans',sans-serif;font-size:9.4px">1960</text>
<text transform="translate(602.36,960.6) scale(1.06,1)" text-anchor="middle" style="font-family:'Liberation Sans',sans-serif;font-size:9.4px">1970</text>
<text transform="translate(664.56,960.6) scale(1.06,1)" text-anchor="middle" style="font-family:'Liberation Sans',sans-serif;font-size:9.4px">1980</text>
<text transform="translate(726.76,960.6) scale(1.06,1)" text-anchor="middle" style="font-family:'Liberation Sans',sans-serif;font-size:9.4px">1990</text>
<text transform="translate(788.97,960.6) scale(1.06,1)" text-anchor="middle" style="font-family:'Liberation Sans',sans-serif;font-size:9.4px">2000</text>
<text transform="translate(517.0,931.50) scale(1.06,1)" text-anchor="end" style="font-family:'Liberation Sans',sans-serif;font-size:9.4px">27.2</text>
<text transform="translate(517.0,900.30) scale(1.06,1)" text-anchor="end" style="font-family:'Liberation Sans',sans-serif;font-size:9.4px">27.6</text>
<text transform="translate(517.0,869.10) scale(1.06,1)" text-anchor="end" style="font-family:'Liberation Sans',sans-serif;font-size:9.4px">28.0</text>
<text transform="translate(517.0,837.90) scale(1.06,1)" text-anchor="end" style="font-family:'Liberation Sans',sans-serif;font-size:9.4px">28.4</text>
<text transform="translate(517.0,806.70) scale(1.06,1)" text-anchor="end" style="font-family:'Liberation Sans',sans-serif;font-size:9.4px">28.8</text>
<text transform="translate(813.0,947.10) scale(1.06,1)" text-anchor="middle" style="font-family:'Liberation Sans',sans-serif;font-size:9.4px">-8</text>
<text transform="translate(813.0,924.81) scale(1.06,1)" text-anchor="middle" style="font-family:'Liberation Sans',sans-serif;font-size:9.4px">-4</text>
<text transform="translate(813.0,902.53) scale(1.06,1)" text-anchor="middle" style="font-family:'Liberation Sans',sans-serif;font-size:9.4px">0</text>
<text transform="translate(813.0,880.24) scale(1.06,1)" text-anchor="middle" style="font-family:'Liberation Sans',sans-serif;font-size:9.4px">4</text>
<text transform="translate(813.0,857.96) scale(1.06,1)" text-anchor="middle" style="font-family:'Liberation Sans',sans-serif;font-size:9.4px">8</text>
<text transform="translate(813.0,835.67) scale(1.06,1)" text-anchor="middle" style="font-family:'Liberation Sans',sans-serif;font-size:9.4px">12</text>
<text transform="translate(813.0,813.39) scale(1.06,1)" text-anchor="middle" style="font-family:'Liberation Sans',sans-serif;font-size:9.4px">16</text>
<text transform="translate(813.0,791.10) scale(1.06,1)" text-anchor="middle" style="font-family:'Liberation Sans',sans-serif;font-size:9.4px">20</text>
<text transform="translate(486.8,865.2) scale(1.15,1) rotate(-90)" text-anchor="middle" style="font-family:'Liberation Sans',sans-serif;font-size:7.9px;letter-spacing:0.15px">SST(°C)</text>
<text transform="translate(833.3,865.5) scale(1.15,1) rotate(-90)" text-anchor="middle" style="font-family:'Liberation Sans',sans-serif;font-size:7.8px;letter-spacing:0.15px">TC number</text>
</svg>
</body></html>
